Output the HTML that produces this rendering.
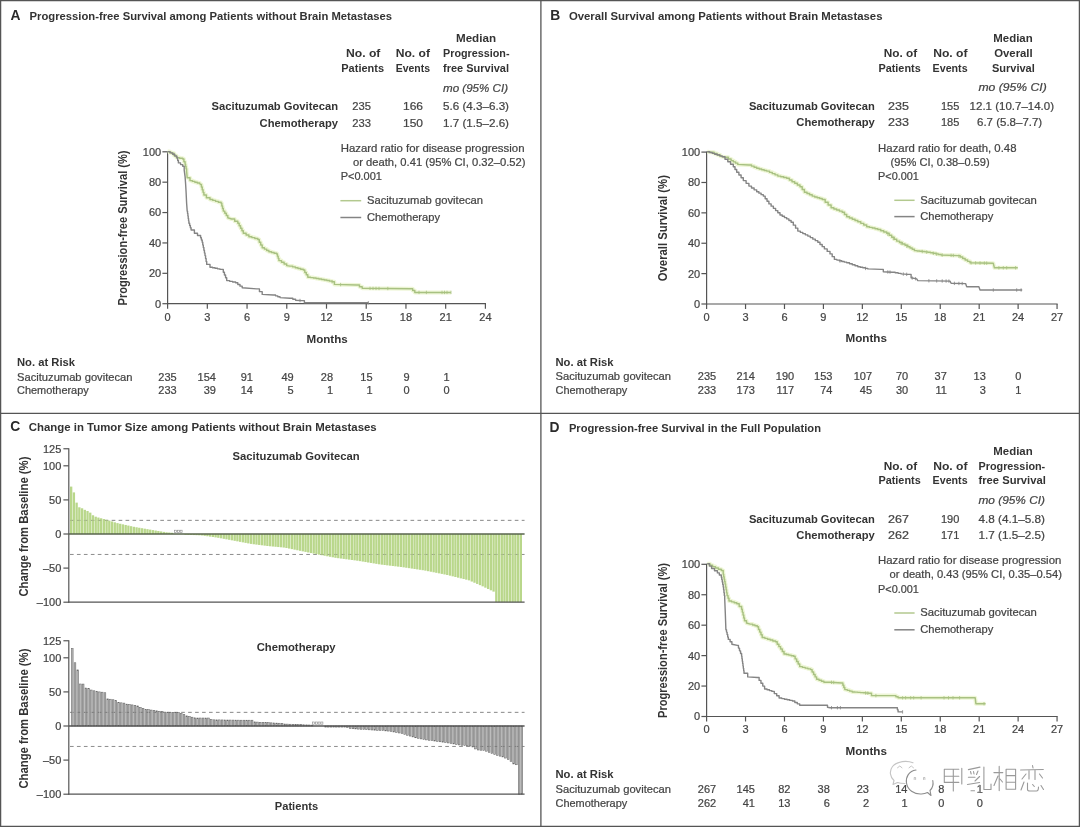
<!DOCTYPE html><html><head><meta charset="utf-8"><style>html,body{margin:0;padding:0;background:#fff;}svg{display:block;filter:blur(0.3px);}</style></head><body>
<svg width="1080" height="827" viewBox="0 0 1080 827" style="font-family:'Liberation Sans', sans-serif">
<rect x="0" y="0" width="1080" height="827" fill="#fff"/>
<rect x="0.6" y="0.6" width="1078.8" height="825.8" fill="none" stroke="#555" stroke-width="1.3"/>
<line x1="540.90" y1="0.00" x2="540.90" y2="827.00" stroke="#555" stroke-width="1.3"/>
<line x1="0.00" y1="413.30" x2="1080.00" y2="413.30" stroke="#555" stroke-width="1.3"/>
<text x="10.60" y="19.70" font-size="13.8" font-weight="bold" font-style="normal" fill="#2a2a2a">A</text>
<text x="29.50" y="19.60" font-size="11" font-weight="bold" font-style="normal" fill="#333" textLength="362.60" lengthAdjust="spacingAndGlyphs">Progression-free Survival among Patients without Brain Metastases</text>
<text x="550.30" y="19.60" font-size="13.8" font-weight="bold" font-style="normal" fill="#2a2a2a">B</text>
<text x="568.90" y="19.60" font-size="11" font-weight="bold" font-style="normal" fill="#333" textLength="313.60" lengthAdjust="spacingAndGlyphs">Overall Survival among Patients without Brain Metastases</text>
<text x="10.30" y="431.00" font-size="13.8" font-weight="bold" font-style="normal" fill="#2a2a2a">C</text>
<text x="28.70" y="431.30" font-size="11" font-weight="bold" font-style="normal" fill="#333" textLength="348.00" lengthAdjust="spacingAndGlyphs">Change in Tumor Size among Patients without Brain Metastases</text>
<text x="549.60" y="432.30" font-size="13.8" font-weight="bold" font-style="normal" fill="#2a2a2a">D</text>
<text x="568.90" y="432.30" font-size="11" font-weight="bold" font-style="normal" fill="#333" textLength="252.10" lengthAdjust="spacingAndGlyphs">Progression-free Survival in the Full Population</text>
<text x="456.00" y="41.80" font-size="11" font-weight="bold" font-style="normal" fill="#333" textLength="40.00" lengthAdjust="spacingAndGlyphs">Median</text>
<text x="346.00" y="57.10" font-size="11" font-weight="bold" font-style="normal" fill="#333" textLength="34.40" lengthAdjust="spacingAndGlyphs">No. of</text>
<text x="395.70" y="57.10" font-size="11" font-weight="bold" font-style="normal" fill="#333" textLength="34.30" lengthAdjust="spacingAndGlyphs">No. of</text>
<text x="443.00" y="57.10" font-size="11" font-weight="bold" font-style="normal" fill="#333" textLength="66.50" lengthAdjust="spacingAndGlyphs">Progression-</text>
<text x="341.30" y="71.50" font-size="11" font-weight="bold" font-style="normal" fill="#333" textLength="42.70" lengthAdjust="spacingAndGlyphs">Patients</text>
<text x="395.70" y="71.50" font-size="11" font-weight="bold" font-style="normal" fill="#333" textLength="34.30" lengthAdjust="spacingAndGlyphs">Events</text>
<text x="443.00" y="71.50" font-size="11" font-weight="bold" font-style="normal" fill="#333" textLength="66.00" lengthAdjust="spacingAndGlyphs">free Survival</text>
<text x="443.00" y="91.50" font-size="11" font-weight="normal" font-style="italic" fill="#444" stroke="#444" stroke-width="0.22" textLength="65.00" lengthAdjust="spacingAndGlyphs">mo (95% CI)</text>
<text x="211.60" y="110.30" font-size="11" font-weight="bold" font-style="normal" fill="#333" textLength="126.40" lengthAdjust="spacingAndGlyphs">Sacituzumab Govitecan</text>
<text x="352.30" y="110.30" font-size="11" font-weight="normal" font-style="normal" fill="#444" stroke="#444" stroke-width="0.22" textLength="18.70" lengthAdjust="spacingAndGlyphs">235</text>
<text x="403.00" y="110.30" font-size="11" font-weight="normal" font-style="normal" fill="#444" stroke="#444" stroke-width="0.22" textLength="20.00" lengthAdjust="spacingAndGlyphs">166</text>
<text x="443.00" y="110.30" font-size="11" font-weight="normal" font-style="normal" fill="#444" stroke="#444" stroke-width="0.22" textLength="66.00" lengthAdjust="spacingAndGlyphs">5.6 (4.3–6.3)</text>
<text x="259.60" y="126.50" font-size="11" font-weight="bold" font-style="normal" fill="#333" textLength="78.40" lengthAdjust="spacingAndGlyphs">Chemotherapy</text>
<text x="352.30" y="126.50" font-size="11" font-weight="normal" font-style="normal" fill="#444" stroke="#444" stroke-width="0.22" textLength="18.70" lengthAdjust="spacingAndGlyphs">233</text>
<text x="403.00" y="126.50" font-size="11" font-weight="normal" font-style="normal" fill="#444" stroke="#444" stroke-width="0.22" textLength="20.00" lengthAdjust="spacingAndGlyphs">150</text>
<text x="443.00" y="126.50" font-size="11" font-weight="normal" font-style="normal" fill="#444" stroke="#444" stroke-width="0.22" textLength="66.00" lengthAdjust="spacingAndGlyphs">1.7 (1.5–2.6)</text>
<text x="993.30" y="41.50" font-size="11" font-weight="bold" font-style="normal" fill="#333" textLength="39.40" lengthAdjust="spacingAndGlyphs">Median</text>
<text x="883.70" y="57.00" font-size="11" font-weight="bold" font-style="normal" fill="#333" textLength="33.50" lengthAdjust="spacingAndGlyphs">No. of</text>
<text x="933.20" y="57.00" font-size="11" font-weight="bold" font-style="normal" fill="#333" textLength="34.40" lengthAdjust="spacingAndGlyphs">No. of</text>
<text x="994.20" y="57.00" font-size="11" font-weight="bold" font-style="normal" fill="#333" textLength="38.50" lengthAdjust="spacingAndGlyphs">Overall</text>
<text x="878.40" y="71.50" font-size="11" font-weight="bold" font-style="normal" fill="#333" textLength="42.30" lengthAdjust="spacingAndGlyphs">Patients</text>
<text x="932.60" y="71.50" font-size="11" font-weight="bold" font-style="normal" fill="#333" textLength="35.00" lengthAdjust="spacingAndGlyphs">Events</text>
<text x="991.90" y="71.50" font-size="11" font-weight="bold" font-style="normal" fill="#333" textLength="42.90" lengthAdjust="spacingAndGlyphs">Survival</text>
<text x="978.50" y="91.00" font-size="11" font-weight="normal" font-style="italic" fill="#444" stroke="#444" stroke-width="0.22" textLength="68.20" lengthAdjust="spacingAndGlyphs">mo (95% CI)</text>
<text x="748.90" y="110.00" font-size="11" font-weight="bold" font-style="normal" fill="#333" textLength="125.90" lengthAdjust="spacingAndGlyphs">Sacituzumab Govitecan</text>
<text x="888.00" y="110.00" font-size="11" font-weight="normal" font-style="normal" fill="#444" stroke="#444" stroke-width="0.22" textLength="20.90" lengthAdjust="spacingAndGlyphs">235</text>
<text x="940.90" y="110.00" font-size="11" font-weight="normal" font-style="normal" fill="#444" stroke="#444" stroke-width="0.22" textLength="18.40" lengthAdjust="spacingAndGlyphs">155</text>
<text x="969.60" y="110.00" font-size="11" font-weight="normal" font-style="normal" fill="#444" stroke="#444" stroke-width="0.22" textLength="84.40" lengthAdjust="spacingAndGlyphs">12.1 (10.7–14.0)</text>
<text x="796.30" y="126.00" font-size="11" font-weight="bold" font-style="normal" fill="#333" textLength="78.50" lengthAdjust="spacingAndGlyphs">Chemotherapy</text>
<text x="888.00" y="126.00" font-size="11" font-weight="normal" font-style="normal" fill="#444" stroke="#444" stroke-width="0.22" textLength="20.90" lengthAdjust="spacingAndGlyphs">233</text>
<text x="940.90" y="126.00" font-size="11" font-weight="normal" font-style="normal" fill="#444" stroke="#444" stroke-width="0.22" textLength="18.40" lengthAdjust="spacingAndGlyphs">185</text>
<text x="977.00" y="126.00" font-size="11" font-weight="normal" font-style="normal" fill="#444" stroke="#444" stroke-width="0.22" textLength="65.20" lengthAdjust="spacingAndGlyphs">6.7 (5.8–7.7)</text>
<text x="993.30" y="454.50" font-size="11" font-weight="bold" font-style="normal" fill="#333" textLength="39.40" lengthAdjust="spacingAndGlyphs">Median</text>
<text x="883.70" y="470.00" font-size="11" font-weight="bold" font-style="normal" fill="#333" textLength="33.50" lengthAdjust="spacingAndGlyphs">No. of</text>
<text x="933.20" y="470.00" font-size="11" font-weight="bold" font-style="normal" fill="#333" textLength="34.40" lengthAdjust="spacingAndGlyphs">No. of</text>
<text x="978.50" y="470.00" font-size="11" font-weight="bold" font-style="normal" fill="#333" textLength="66.70" lengthAdjust="spacingAndGlyphs">Progression-</text>
<text x="878.40" y="484.20" font-size="11" font-weight="bold" font-style="normal" fill="#333" textLength="42.30" lengthAdjust="spacingAndGlyphs">Patients</text>
<text x="932.60" y="484.20" font-size="11" font-weight="bold" font-style="normal" fill="#333" textLength="35.00" lengthAdjust="spacingAndGlyphs">Events</text>
<text x="978.50" y="484.20" font-size="11" font-weight="bold" font-style="normal" fill="#333" textLength="67.30" lengthAdjust="spacingAndGlyphs">free Survival</text>
<text x="978.50" y="503.60" font-size="11" font-weight="normal" font-style="italic" fill="#444" stroke="#444" stroke-width="0.22" textLength="66.50" lengthAdjust="spacingAndGlyphs">mo (95% CI)</text>
<text x="748.90" y="523.20" font-size="11" font-weight="bold" font-style="normal" fill="#333" textLength="125.90" lengthAdjust="spacingAndGlyphs">Sacituzumab Govitecan</text>
<text x="888.00" y="523.20" font-size="11" font-weight="normal" font-style="normal" fill="#444" stroke="#444" stroke-width="0.22" textLength="20.90" lengthAdjust="spacingAndGlyphs">267</text>
<text x="940.90" y="523.20" font-size="11" font-weight="normal" font-style="normal" fill="#444" stroke="#444" stroke-width="0.22" textLength="18.40" lengthAdjust="spacingAndGlyphs">190</text>
<text x="978.50" y="523.20" font-size="11" font-weight="normal" font-style="normal" fill="#444" stroke="#444" stroke-width="0.22" textLength="66.50" lengthAdjust="spacingAndGlyphs">4.8 (4.1–5.8)</text>
<text x="796.30" y="539.30" font-size="11" font-weight="bold" font-style="normal" fill="#333" textLength="78.50" lengthAdjust="spacingAndGlyphs">Chemotherapy</text>
<text x="888.00" y="539.30" font-size="11" font-weight="normal" font-style="normal" fill="#444" stroke="#444" stroke-width="0.22" textLength="20.90" lengthAdjust="spacingAndGlyphs">262</text>
<text x="940.90" y="539.30" font-size="11" font-weight="normal" font-style="normal" fill="#444" stroke="#444" stroke-width="0.22" textLength="18.40" lengthAdjust="spacingAndGlyphs">171</text>
<text x="978.50" y="539.30" font-size="11" font-weight="normal" font-style="normal" fill="#444" stroke="#444" stroke-width="0.22" textLength="66.50" lengthAdjust="spacingAndGlyphs">1.7 (1.5–2.5)</text>
<text x="340.70" y="152.10" font-size="11" font-weight="normal" font-style="normal" fill="#444" stroke="#444" stroke-width="0.22" textLength="183.80" lengthAdjust="spacingAndGlyphs">Hazard ratio for disease progression</text>
<text x="353.00" y="166.10" font-size="11" font-weight="normal" font-style="normal" fill="#444" stroke="#444" stroke-width="0.22" textLength="172.50" lengthAdjust="spacingAndGlyphs">or death, 0.41 (95% CI, 0.32–0.52)</text>
<text x="340.70" y="180.10" font-size="11" font-weight="normal" font-style="normal" fill="#444" stroke="#444" stroke-width="0.22" textLength="41.30" lengthAdjust="spacingAndGlyphs">P&lt;0.001</text>
<line x1="340.40" y1="200.70" x2="361.20" y2="200.70" stroke="#b3c98f" stroke-width="1.5"/>
<text x="367.00" y="204.00" font-size="11" font-weight="normal" font-style="normal" fill="#444" stroke="#444" stroke-width="0.22" textLength="116.00" lengthAdjust="spacingAndGlyphs">Sacituzumab govitecan</text>
<line x1="340.40" y1="217.50" x2="361.20" y2="217.50" stroke="#848484" stroke-width="1.5"/>
<text x="367.00" y="220.60" font-size="11" font-weight="normal" font-style="normal" fill="#444" stroke="#444" stroke-width="0.22" textLength="73.00" lengthAdjust="spacingAndGlyphs">Chemotherapy</text>
<text x="878.10" y="152.00" font-size="11" font-weight="normal" font-style="normal" fill="#444" stroke="#444" stroke-width="0.22" textLength="138.40" lengthAdjust="spacingAndGlyphs">Hazard ratio for death, 0.48</text>
<text x="890.60" y="165.80" font-size="11" font-weight="normal" font-style="normal" fill="#444" stroke="#444" stroke-width="0.22" textLength="99.00" lengthAdjust="spacingAndGlyphs">(95% CI, 0.38–0.59)</text>
<text x="878.00" y="180.30" font-size="11" font-weight="normal" font-style="normal" fill="#444" stroke="#444" stroke-width="0.22" textLength="40.90" lengthAdjust="spacingAndGlyphs">P&lt;0.001</text>
<line x1="894.30" y1="200.30" x2="914.60" y2="200.30" stroke="#b3c98f" stroke-width="1.5"/>
<text x="920.20" y="203.90" font-size="11" font-weight="normal" font-style="normal" fill="#444" stroke="#444" stroke-width="0.22" textLength="116.70" lengthAdjust="spacingAndGlyphs">Sacituzumab govitecan</text>
<line x1="894.30" y1="216.60" x2="914.60" y2="216.60" stroke="#848484" stroke-width="1.5"/>
<text x="920.20" y="220.20" font-size="11" font-weight="normal" font-style="normal" fill="#444" stroke="#444" stroke-width="0.22" textLength="73.10" lengthAdjust="spacingAndGlyphs">Chemotherapy</text>
<text x="878.10" y="564.40" font-size="11" font-weight="normal" font-style="normal" fill="#444" stroke="#444" stroke-width="0.22" textLength="183.20" lengthAdjust="spacingAndGlyphs">Hazard ratio for disease progression</text>
<text x="889.60" y="578.20" font-size="11" font-weight="normal" font-style="normal" fill="#444" stroke="#444" stroke-width="0.22" textLength="172.40" lengthAdjust="spacingAndGlyphs">or death, 0.43 (95% CI, 0.35–0.54)</text>
<text x="878.00" y="593.00" font-size="11" font-weight="normal" font-style="normal" fill="#444" stroke="#444" stroke-width="0.22" textLength="40.90" lengthAdjust="spacingAndGlyphs">P&lt;0.001</text>
<line x1="894.30" y1="613.00" x2="914.60" y2="613.00" stroke="#b3c98f" stroke-width="1.5"/>
<text x="920.20" y="616.30" font-size="11" font-weight="normal" font-style="normal" fill="#444" stroke="#444" stroke-width="0.22" textLength="116.70" lengthAdjust="spacingAndGlyphs">Sacituzumab govitecan</text>
<line x1="894.30" y1="629.80" x2="914.60" y2="629.80" stroke="#848484" stroke-width="1.5"/>
<text x="920.20" y="633.00" font-size="11" font-weight="normal" font-style="normal" fill="#444" stroke="#444" stroke-width="0.22" textLength="73.10" lengthAdjust="spacingAndGlyphs">Chemotherapy</text>
<line x1="167.60" y1="151.20" x2="167.60" y2="304.30" stroke="#555" stroke-width="1.2"/>
<line x1="162.40" y1="303.70" x2="167.60" y2="303.70" stroke="#555" stroke-width="1.2"/>
<text x="161.20" y="307.60" font-size="11" font-weight="normal" fill="#444" stroke="#444" stroke-width="0.22" text-anchor="end">0</text>
<line x1="162.40" y1="273.32" x2="167.60" y2="273.32" stroke="#555" stroke-width="1.2"/>
<text x="161.20" y="277.22" font-size="11" font-weight="normal" fill="#444" stroke="#444" stroke-width="0.22" text-anchor="end">20</text>
<line x1="162.40" y1="242.94" x2="167.60" y2="242.94" stroke="#555" stroke-width="1.2"/>
<text x="161.20" y="246.84" font-size="11" font-weight="normal" fill="#444" stroke="#444" stroke-width="0.22" text-anchor="end">40</text>
<line x1="162.40" y1="212.56" x2="167.60" y2="212.56" stroke="#555" stroke-width="1.2"/>
<text x="161.20" y="216.46" font-size="11" font-weight="normal" fill="#444" stroke="#444" stroke-width="0.22" text-anchor="end">60</text>
<line x1="162.40" y1="182.18" x2="167.60" y2="182.18" stroke="#555" stroke-width="1.2"/>
<text x="161.20" y="186.08" font-size="11" font-weight="normal" fill="#444" stroke="#444" stroke-width="0.22" text-anchor="end">80</text>
<line x1="162.40" y1="151.80" x2="167.60" y2="151.80" stroke="#555" stroke-width="1.2"/>
<text x="161.20" y="155.70" font-size="11" font-weight="normal" fill="#444" stroke="#444" stroke-width="0.22" text-anchor="end">100</text>
<line x1="167.00" y1="303.70" x2="486.00" y2="303.70" stroke="#555" stroke-width="1.2"/>
<line x1="167.60" y1="303.70" x2="167.60" y2="308.70" stroke="#555" stroke-width="1.2"/>
<text x="167.60" y="320.70" font-size="11" font-weight="normal" fill="#444" stroke="#444" stroke-width="0.22" text-anchor="middle">0</text>
<line x1="207.32" y1="303.70" x2="207.32" y2="308.70" stroke="#555" stroke-width="1.2"/>
<text x="207.32" y="320.70" font-size="11" font-weight="normal" fill="#444" stroke="#444" stroke-width="0.22" text-anchor="middle">3</text>
<line x1="247.05" y1="303.70" x2="247.05" y2="308.70" stroke="#555" stroke-width="1.2"/>
<text x="247.05" y="320.70" font-size="11" font-weight="normal" fill="#444" stroke="#444" stroke-width="0.22" text-anchor="middle">6</text>
<line x1="286.77" y1="303.70" x2="286.77" y2="308.70" stroke="#555" stroke-width="1.2"/>
<text x="286.77" y="320.70" font-size="11" font-weight="normal" fill="#444" stroke="#444" stroke-width="0.22" text-anchor="middle">9</text>
<line x1="326.50" y1="303.70" x2="326.50" y2="308.70" stroke="#555" stroke-width="1.2"/>
<text x="326.50" y="320.70" font-size="11" font-weight="normal" fill="#444" stroke="#444" stroke-width="0.22" text-anchor="middle">12</text>
<line x1="366.23" y1="303.70" x2="366.23" y2="308.70" stroke="#555" stroke-width="1.2"/>
<text x="366.23" y="320.70" font-size="11" font-weight="normal" fill="#444" stroke="#444" stroke-width="0.22" text-anchor="middle">15</text>
<line x1="405.95" y1="303.70" x2="405.95" y2="308.70" stroke="#555" stroke-width="1.2"/>
<text x="405.95" y="320.70" font-size="11" font-weight="normal" fill="#444" stroke="#444" stroke-width="0.22" text-anchor="middle">18</text>
<line x1="445.67" y1="303.70" x2="445.67" y2="308.70" stroke="#555" stroke-width="1.2"/>
<text x="445.67" y="320.70" font-size="11" font-weight="normal" fill="#444" stroke="#444" stroke-width="0.22" text-anchor="middle">21</text>
<line x1="485.40" y1="303.70" x2="485.40" y2="308.70" stroke="#555" stroke-width="1.2"/>
<text x="485.40" y="320.70" font-size="11" font-weight="normal" fill="#444" stroke="#444" stroke-width="0.22" text-anchor="middle">24</text>
<line x1="706.60" y1="151.50" x2="706.60" y2="304.60" stroke="#555" stroke-width="1.2"/>
<line x1="701.40" y1="304.00" x2="706.60" y2="304.00" stroke="#555" stroke-width="1.2"/>
<text x="700.20" y="307.90" font-size="11" font-weight="normal" fill="#444" stroke="#444" stroke-width="0.22" text-anchor="end">0</text>
<line x1="701.40" y1="273.62" x2="706.60" y2="273.62" stroke="#555" stroke-width="1.2"/>
<text x="700.20" y="277.52" font-size="11" font-weight="normal" fill="#444" stroke="#444" stroke-width="0.22" text-anchor="end">20</text>
<line x1="701.40" y1="243.24" x2="706.60" y2="243.24" stroke="#555" stroke-width="1.2"/>
<text x="700.20" y="247.14" font-size="11" font-weight="normal" fill="#444" stroke="#444" stroke-width="0.22" text-anchor="end">40</text>
<line x1="701.40" y1="212.86" x2="706.60" y2="212.86" stroke="#555" stroke-width="1.2"/>
<text x="700.20" y="216.76" font-size="11" font-weight="normal" fill="#444" stroke="#444" stroke-width="0.22" text-anchor="end">60</text>
<line x1="701.40" y1="182.48" x2="706.60" y2="182.48" stroke="#555" stroke-width="1.2"/>
<text x="700.20" y="186.38" font-size="11" font-weight="normal" fill="#444" stroke="#444" stroke-width="0.22" text-anchor="end">80</text>
<line x1="701.40" y1="152.10" x2="706.60" y2="152.10" stroke="#555" stroke-width="1.2"/>
<text x="700.20" y="156.00" font-size="11" font-weight="normal" fill="#444" stroke="#444" stroke-width="0.22" text-anchor="end">100</text>
<line x1="706.00" y1="304.00" x2="1057.66" y2="304.00" stroke="#555" stroke-width="1.2"/>
<line x1="706.60" y1="304.00" x2="706.60" y2="309.00" stroke="#555" stroke-width="1.2"/>
<text x="706.60" y="321.00" font-size="11" font-weight="normal" fill="#444" stroke="#444" stroke-width="0.22" text-anchor="middle">0</text>
<line x1="745.54" y1="304.00" x2="745.54" y2="309.00" stroke="#555" stroke-width="1.2"/>
<text x="745.54" y="321.00" font-size="11" font-weight="normal" fill="#444" stroke="#444" stroke-width="0.22" text-anchor="middle">3</text>
<line x1="784.48" y1="304.00" x2="784.48" y2="309.00" stroke="#555" stroke-width="1.2"/>
<text x="784.48" y="321.00" font-size="11" font-weight="normal" fill="#444" stroke="#444" stroke-width="0.22" text-anchor="middle">6</text>
<line x1="823.42" y1="304.00" x2="823.42" y2="309.00" stroke="#555" stroke-width="1.2"/>
<text x="823.42" y="321.00" font-size="11" font-weight="normal" fill="#444" stroke="#444" stroke-width="0.22" text-anchor="middle">9</text>
<line x1="862.36" y1="304.00" x2="862.36" y2="309.00" stroke="#555" stroke-width="1.2"/>
<text x="862.36" y="321.00" font-size="11" font-weight="normal" fill="#444" stroke="#444" stroke-width="0.22" text-anchor="middle">12</text>
<line x1="901.30" y1="304.00" x2="901.30" y2="309.00" stroke="#555" stroke-width="1.2"/>
<text x="901.30" y="321.00" font-size="11" font-weight="normal" fill="#444" stroke="#444" stroke-width="0.22" text-anchor="middle">15</text>
<line x1="940.24" y1="304.00" x2="940.24" y2="309.00" stroke="#555" stroke-width="1.2"/>
<text x="940.24" y="321.00" font-size="11" font-weight="normal" fill="#444" stroke="#444" stroke-width="0.22" text-anchor="middle">18</text>
<line x1="979.18" y1="304.00" x2="979.18" y2="309.00" stroke="#555" stroke-width="1.2"/>
<text x="979.18" y="321.00" font-size="11" font-weight="normal" fill="#444" stroke="#444" stroke-width="0.22" text-anchor="middle">21</text>
<line x1="1018.12" y1="304.00" x2="1018.12" y2="309.00" stroke="#555" stroke-width="1.2"/>
<text x="1018.12" y="321.00" font-size="11" font-weight="normal" fill="#444" stroke="#444" stroke-width="0.22" text-anchor="middle">24</text>
<line x1="1057.06" y1="304.00" x2="1057.06" y2="309.00" stroke="#555" stroke-width="1.2"/>
<text x="1057.06" y="321.00" font-size="11" font-weight="normal" fill="#444" stroke="#444" stroke-width="0.22" text-anchor="middle">27</text>
<line x1="706.60" y1="563.70" x2="706.60" y2="717.10" stroke="#555" stroke-width="1.2"/>
<line x1="701.40" y1="716.50" x2="706.60" y2="716.50" stroke="#555" stroke-width="1.2"/>
<text x="700.20" y="720.40" font-size="11" font-weight="normal" fill="#444" stroke="#444" stroke-width="0.22" text-anchor="end">0</text>
<line x1="701.40" y1="686.06" x2="706.60" y2="686.06" stroke="#555" stroke-width="1.2"/>
<text x="700.20" y="689.96" font-size="11" font-weight="normal" fill="#444" stroke="#444" stroke-width="0.22" text-anchor="end">20</text>
<line x1="701.40" y1="655.62" x2="706.60" y2="655.62" stroke="#555" stroke-width="1.2"/>
<text x="700.20" y="659.52" font-size="11" font-weight="normal" fill="#444" stroke="#444" stroke-width="0.22" text-anchor="end">40</text>
<line x1="701.40" y1="625.18" x2="706.60" y2="625.18" stroke="#555" stroke-width="1.2"/>
<text x="700.20" y="629.08" font-size="11" font-weight="normal" fill="#444" stroke="#444" stroke-width="0.22" text-anchor="end">60</text>
<line x1="701.40" y1="594.74" x2="706.60" y2="594.74" stroke="#555" stroke-width="1.2"/>
<text x="700.20" y="598.64" font-size="11" font-weight="normal" fill="#444" stroke="#444" stroke-width="0.22" text-anchor="end">80</text>
<line x1="701.40" y1="564.30" x2="706.60" y2="564.30" stroke="#555" stroke-width="1.2"/>
<text x="700.20" y="568.20" font-size="11" font-weight="normal" fill="#444" stroke="#444" stroke-width="0.22" text-anchor="end">100</text>
<line x1="706.00" y1="716.50" x2="1057.66" y2="716.50" stroke="#555" stroke-width="1.2"/>
<line x1="706.60" y1="716.50" x2="706.60" y2="721.50" stroke="#555" stroke-width="1.2"/>
<text x="706.60" y="733.00" font-size="11" font-weight="normal" fill="#444" stroke="#444" stroke-width="0.22" text-anchor="middle">0</text>
<line x1="745.54" y1="716.50" x2="745.54" y2="721.50" stroke="#555" stroke-width="1.2"/>
<text x="745.54" y="733.00" font-size="11" font-weight="normal" fill="#444" stroke="#444" stroke-width="0.22" text-anchor="middle">3</text>
<line x1="784.48" y1="716.50" x2="784.48" y2="721.50" stroke="#555" stroke-width="1.2"/>
<text x="784.48" y="733.00" font-size="11" font-weight="normal" fill="#444" stroke="#444" stroke-width="0.22" text-anchor="middle">6</text>
<line x1="823.42" y1="716.50" x2="823.42" y2="721.50" stroke="#555" stroke-width="1.2"/>
<text x="823.42" y="733.00" font-size="11" font-weight="normal" fill="#444" stroke="#444" stroke-width="0.22" text-anchor="middle">9</text>
<line x1="862.36" y1="716.50" x2="862.36" y2="721.50" stroke="#555" stroke-width="1.2"/>
<text x="862.36" y="733.00" font-size="11" font-weight="normal" fill="#444" stroke="#444" stroke-width="0.22" text-anchor="middle">12</text>
<line x1="901.30" y1="716.50" x2="901.30" y2="721.50" stroke="#555" stroke-width="1.2"/>
<text x="901.30" y="733.00" font-size="11" font-weight="normal" fill="#444" stroke="#444" stroke-width="0.22" text-anchor="middle">15</text>
<line x1="940.24" y1="716.50" x2="940.24" y2="721.50" stroke="#555" stroke-width="1.2"/>
<text x="940.24" y="733.00" font-size="11" font-weight="normal" fill="#444" stroke="#444" stroke-width="0.22" text-anchor="middle">18</text>
<line x1="979.18" y1="716.50" x2="979.18" y2="721.50" stroke="#555" stroke-width="1.2"/>
<text x="979.18" y="733.00" font-size="11" font-weight="normal" fill="#444" stroke="#444" stroke-width="0.22" text-anchor="middle">21</text>
<line x1="1018.12" y1="716.50" x2="1018.12" y2="721.50" stroke="#555" stroke-width="1.2"/>
<text x="1018.12" y="733.00" font-size="11" font-weight="normal" fill="#444" stroke="#444" stroke-width="0.22" text-anchor="middle">24</text>
<line x1="1057.06" y1="716.50" x2="1057.06" y2="721.50" stroke="#555" stroke-width="1.2"/>
<text x="1057.06" y="733.00" font-size="11" font-weight="normal" fill="#444" stroke="#444" stroke-width="0.22" text-anchor="middle">27</text>
<text transform="translate(127.40,305.40) rotate(-90)" x="0" y="0" font-size="12" font-weight="bold" fill="#333" textLength="154.90" lengthAdjust="spacingAndGlyphs">Progression-free Survival (%)</text>
<text transform="translate(667.00,281.20) rotate(-90)" x="0" y="0" font-size="12" font-weight="bold" fill="#333" textLength="106.10" lengthAdjust="spacingAndGlyphs">Overall Survival (%)</text>
<text transform="translate(667.00,717.90) rotate(-90)" x="0" y="0" font-size="12" font-weight="bold" fill="#333" textLength="154.90" lengthAdjust="spacingAndGlyphs">Progression-free Survival (%)</text>
<text x="306.50" y="342.50" font-size="11.5" font-weight="bold" font-style="normal" fill="#333" textLength="41.20" lengthAdjust="spacingAndGlyphs">Months</text>
<text x="845.50" y="342.00" font-size="11.5" font-weight="bold" font-style="normal" fill="#333" textLength="41.50" lengthAdjust="spacingAndGlyphs">Months</text>
<text x="845.50" y="754.50" font-size="11.5" font-weight="bold" font-style="normal" fill="#333" textLength="41.50" lengthAdjust="spacingAndGlyphs">Months</text>
<text x="17.00" y="365.50" font-size="11.5" font-weight="bold" font-style="normal" fill="#333" textLength="58.00" lengthAdjust="spacingAndGlyphs">No. at Risk</text>
<text x="17.00" y="380.60" font-size="11" font-weight="normal" font-style="normal" fill="#444" stroke="#444" stroke-width="0.22" textLength="115.50" lengthAdjust="spacingAndGlyphs">Sacituzumab govitecan</text>
<text x="17.00" y="394.20" font-size="11" font-weight="normal" font-style="normal" fill="#444" stroke="#444" stroke-width="0.22" textLength="71.75" lengthAdjust="spacingAndGlyphs">Chemotherapy</text>
<text x="176.65" y="380.60" font-size="11" font-weight="normal" fill="#444" stroke="#444" stroke-width="0.22" text-anchor="end">235</text>
<text x="176.65" y="394.20" font-size="11" font-weight="normal" fill="#444" stroke="#444" stroke-width="0.22" text-anchor="end">233</text>
<text x="215.90" y="380.60" font-size="11" font-weight="normal" fill="#444" stroke="#444" stroke-width="0.22" text-anchor="end">154</text>
<text x="215.90" y="394.20" font-size="11" font-weight="normal" fill="#444" stroke="#444" stroke-width="0.22" text-anchor="end">39</text>
<text x="252.90" y="380.60" font-size="11" font-weight="normal" fill="#444" stroke="#444" stroke-width="0.22" text-anchor="end">91</text>
<text x="252.90" y="394.20" font-size="11" font-weight="normal" fill="#444" stroke="#444" stroke-width="0.22" text-anchor="end">14</text>
<text x="293.70" y="380.60" font-size="11" font-weight="normal" fill="#444" stroke="#444" stroke-width="0.22" text-anchor="end">49</text>
<text x="293.70" y="394.20" font-size="11" font-weight="normal" fill="#444" stroke="#444" stroke-width="0.22" text-anchor="end">5</text>
<text x="333.10" y="380.60" font-size="11" font-weight="normal" fill="#444" stroke="#444" stroke-width="0.22" text-anchor="end">28</text>
<text x="333.10" y="394.20" font-size="11" font-weight="normal" fill="#444" stroke="#444" stroke-width="0.22" text-anchor="end">1</text>
<text x="372.60" y="380.60" font-size="11" font-weight="normal" fill="#444" stroke="#444" stroke-width="0.22" text-anchor="end">15</text>
<text x="372.60" y="394.20" font-size="11" font-weight="normal" fill="#444" stroke="#444" stroke-width="0.22" text-anchor="end">1</text>
<text x="409.70" y="380.60" font-size="11" font-weight="normal" fill="#444" stroke="#444" stroke-width="0.22" text-anchor="end">9</text>
<text x="409.70" y="394.20" font-size="11" font-weight="normal" fill="#444" stroke="#444" stroke-width="0.22" text-anchor="end">0</text>
<text x="449.70" y="380.60" font-size="11" font-weight="normal" fill="#444" stroke="#444" stroke-width="0.22" text-anchor="end">1</text>
<text x="449.70" y="394.20" font-size="11" font-weight="normal" fill="#444" stroke="#444" stroke-width="0.22" text-anchor="end">0</text>
<text x="555.50" y="365.50" font-size="11.5" font-weight="bold" font-style="normal" fill="#333" textLength="58.00" lengthAdjust="spacingAndGlyphs">No. at Risk</text>
<text x="555.50" y="380.20" font-size="11" font-weight="normal" font-style="normal" fill="#444" stroke="#444" stroke-width="0.22" textLength="115.50" lengthAdjust="spacingAndGlyphs">Sacituzumab govitecan</text>
<text x="555.50" y="393.60" font-size="11" font-weight="normal" font-style="normal" fill="#444" stroke="#444" stroke-width="0.22" textLength="71.75" lengthAdjust="spacingAndGlyphs">Chemotherapy</text>
<text x="716.15" y="380.20" font-size="11" font-weight="normal" fill="#444" stroke="#444" stroke-width="0.22" text-anchor="end">235</text>
<text x="716.15" y="393.60" font-size="11" font-weight="normal" fill="#444" stroke="#444" stroke-width="0.22" text-anchor="end">233</text>
<text x="754.90" y="380.20" font-size="11" font-weight="normal" fill="#444" stroke="#444" stroke-width="0.22" text-anchor="end">214</text>
<text x="754.90" y="393.60" font-size="11" font-weight="normal" fill="#444" stroke="#444" stroke-width="0.22" text-anchor="end">173</text>
<text x="794.15" y="380.20" font-size="11" font-weight="normal" fill="#444" stroke="#444" stroke-width="0.22" text-anchor="end">190</text>
<text x="794.15" y="393.60" font-size="11" font-weight="normal" fill="#444" stroke="#444" stroke-width="0.22" text-anchor="end">117</text>
<text x="832.40" y="380.20" font-size="11" font-weight="normal" fill="#444" stroke="#444" stroke-width="0.22" text-anchor="end">153</text>
<text x="832.40" y="393.60" font-size="11" font-weight="normal" fill="#444" stroke="#444" stroke-width="0.22" text-anchor="end">74</text>
<text x="872.10" y="380.20" font-size="11" font-weight="normal" fill="#444" stroke="#444" stroke-width="0.22" text-anchor="end">107</text>
<text x="872.10" y="393.60" font-size="11" font-weight="normal" fill="#444" stroke="#444" stroke-width="0.22" text-anchor="end">45</text>
<text x="908.20" y="380.20" font-size="11" font-weight="normal" fill="#444" stroke="#444" stroke-width="0.22" text-anchor="end">70</text>
<text x="908.20" y="393.60" font-size="11" font-weight="normal" fill="#444" stroke="#444" stroke-width="0.22" text-anchor="end">30</text>
<text x="946.80" y="380.20" font-size="11" font-weight="normal" fill="#444" stroke="#444" stroke-width="0.22" text-anchor="end">37</text>
<text x="946.80" y="393.60" font-size="11" font-weight="normal" fill="#444" stroke="#444" stroke-width="0.22" text-anchor="end">11</text>
<text x="985.80" y="380.20" font-size="11" font-weight="normal" fill="#444" stroke="#444" stroke-width="0.22" text-anchor="end">13</text>
<text x="985.80" y="393.60" font-size="11" font-weight="normal" fill="#444" stroke="#444" stroke-width="0.22" text-anchor="end">3</text>
<text x="1021.40" y="380.20" font-size="11" font-weight="normal" fill="#444" stroke="#444" stroke-width="0.22" text-anchor="end">0</text>
<text x="1021.40" y="393.60" font-size="11" font-weight="normal" fill="#444" stroke="#444" stroke-width="0.22" text-anchor="end">1</text>
<text x="555.50" y="778.00" font-size="11.5" font-weight="bold" font-style="normal" fill="#333" textLength="58.00" lengthAdjust="spacingAndGlyphs">No. at Risk</text>
<text x="555.50" y="793.00" font-size="11" font-weight="normal" font-style="normal" fill="#444" stroke="#444" stroke-width="0.22" textLength="115.50" lengthAdjust="spacingAndGlyphs">Sacituzumab govitecan</text>
<text x="555.50" y="806.50" font-size="11" font-weight="normal" font-style="normal" fill="#444" stroke="#444" stroke-width="0.22" textLength="71.75" lengthAdjust="spacingAndGlyphs">Chemotherapy</text>
<text x="716.15" y="793.00" font-size="11" font-weight="normal" fill="#444" stroke="#444" stroke-width="0.22" text-anchor="end">267</text>
<text x="716.15" y="806.50" font-size="11" font-weight="normal" fill="#444" stroke="#444" stroke-width="0.22" text-anchor="end">262</text>
<text x="754.90" y="793.00" font-size="11" font-weight="normal" fill="#444" stroke="#444" stroke-width="0.22" text-anchor="end">145</text>
<text x="754.90" y="806.50" font-size="11" font-weight="normal" fill="#444" stroke="#444" stroke-width="0.22" text-anchor="end">41</text>
<text x="790.40" y="793.00" font-size="11" font-weight="normal" fill="#444" stroke="#444" stroke-width="0.22" text-anchor="end">82</text>
<text x="790.40" y="806.50" font-size="11" font-weight="normal" fill="#444" stroke="#444" stroke-width="0.22" text-anchor="end">13</text>
<text x="829.80" y="793.00" font-size="11" font-weight="normal" fill="#444" stroke="#444" stroke-width="0.22" text-anchor="end">38</text>
<text x="829.80" y="806.50" font-size="11" font-weight="normal" fill="#444" stroke="#444" stroke-width="0.22" text-anchor="end">6</text>
<text x="869.00" y="793.00" font-size="11" font-weight="normal" fill="#444" stroke="#444" stroke-width="0.22" text-anchor="end">23</text>
<text x="869.00" y="806.50" font-size="11" font-weight="normal" fill="#444" stroke="#444" stroke-width="0.22" text-anchor="end">2</text>
<text x="907.50" y="793.00" font-size="11" font-weight="normal" fill="#444" stroke="#444" stroke-width="0.22" text-anchor="end">14</text>
<text x="907.50" y="806.50" font-size="11" font-weight="normal" fill="#444" stroke="#444" stroke-width="0.22" text-anchor="end">1</text>
<text x="944.40" y="793.00" font-size="11" font-weight="normal" fill="#444" stroke="#444" stroke-width="0.22" text-anchor="end">8</text>
<text x="944.40" y="806.50" font-size="11" font-weight="normal" fill="#444" stroke="#444" stroke-width="0.22" text-anchor="end">0</text>
<text x="982.90" y="793.00" font-size="11" font-weight="normal" fill="#444" stroke="#444" stroke-width="0.22" text-anchor="end">1</text>
<text x="982.90" y="806.50" font-size="11" font-weight="normal" fill="#444" stroke="#444" stroke-width="0.22" text-anchor="end">0</text>
<polyline points="167.70,151.60 169.65,151.60 169.65,152.40 171.60,152.40 171.60,153.20 174.00,153.20 174.00,155.40 176.40,155.40 176.40,157.60 179.55,157.60 179.55,158.30 182.70,158.30 182.70,159.00 183.90,159.00 183.90,161.65 185.10,161.65 185.10,164.30 185.60,164.30 185.60,166.57 186.10,166.57 186.10,168.83 186.60,168.83 186.60,171.10 187.20,177.80 190.00,177.80 190.00,180.60 192.43,180.60 192.43,181.38 194.85,181.38 194.85,182.15 197.27,182.15 197.27,182.92 199.70,182.92 199.70,183.70 200.60,184.40 201.43,184.40 201.43,187.05 202.25,187.05 202.25,189.70 203.07,189.70 203.07,192.35 203.90,192.35 203.90,195.00 206.40,195.00 206.40,197.70 210.00,197.70 210.00,199.40 212.78,199.40 212.78,200.38 215.55,200.38 215.55,201.35 218.32,201.35 218.32,202.33 221.10,202.33 221.10,203.30 221.83,203.30 221.83,205.90 222.57,205.90 222.57,208.50 223.30,208.50 223.30,211.10 224.80,211.10 224.80,213.33 226.30,213.33 226.30,215.57 227.80,215.57 227.80,217.80 231.60,219.00 234.70,219.00 234.70,221.15 237.80,221.15 237.80,223.30 239.18,223.30 239.18,225.80 240.55,225.80 240.55,228.30 241.93,228.30 241.93,230.80 243.30,230.80 243.30,233.30 246.10,233.30 246.10,235.00 248.90,235.00 248.90,236.70 251.87,236.70 251.87,237.60 254.83,237.60 254.83,238.50 257.80,238.50 257.80,239.40 259.27,239.40 259.27,242.20 260.73,242.20 260.73,245.00 262.20,245.00 262.20,247.80 264.43,247.80 264.43,249.10 266.67,249.10 266.67,250.40 268.90,250.40 268.90,251.70 271.50,251.70 271.50,252.43 274.10,252.43 274.10,253.17 276.70,253.17 276.70,253.90 277.43,253.90 277.43,256.13 278.17,256.13 278.17,258.37 278.90,258.37 278.90,260.60 281.50,260.60 281.50,262.27 284.10,262.27 284.10,263.93 286.70,263.93 286.70,265.60 290.00,266.10 292.66,266.10 292.66,266.88 295.32,266.88 295.32,267.66 297.98,267.66 297.98,268.44 300.64,268.44 300.64,269.22 303.30,269.22 303.30,270.00 304.80,270.00 304.80,272.40 306.30,272.40 306.30,274.80 307.80,274.80 307.80,277.20 310.57,277.20 310.57,277.62 313.35,277.62 313.35,278.05 316.12,278.05 316.12,278.47 318.90,278.47 318.90,278.90 321.56,278.90 321.56,279.46 324.22,279.46 324.22,280.02 326.88,280.02 326.88,280.58 329.54,280.58 329.54,281.14 332.20,281.14 332.20,281.70 334.40,281.70 334.40,284.40 356.70,285.00 359.45,285.00 359.45,286.65 362.20,286.65 362.20,288.30 410.60,288.70 412.70,288.70 412.70,290.55 414.80,290.55 414.80,292.40 450.90,292.40" fill="none" stroke="#eef6d6" stroke-width="4.0" stroke-linejoin="round" stroke-linecap="butt"/>
<polyline points="707.20,151.70 711.10,152.20 714.07,152.20 714.07,153.50 717.03,153.50 717.03,154.80 720.00,154.80 720.00,156.10 725.60,157.20 728.35,157.20 728.35,158.90 731.10,158.90 731.10,160.60 733.33,160.60 733.33,161.87 735.57,161.87 735.57,163.13 737.80,163.13 737.80,164.40 748.90,165.00 751.50,165.00 751.50,166.10 754.10,166.10 754.10,167.20 756.70,167.20 756.70,168.30 759.20,168.30 759.20,169.00 761.70,169.00 761.70,169.70 764.20,169.70 764.20,170.40 766.70,170.40 766.70,171.10 769.48,171.10 769.48,172.35 772.25,172.35 772.25,173.60 775.02,173.60 775.02,174.85 777.80,174.85 777.80,176.10 780.77,176.10 780.77,176.83 783.73,176.83 783.73,177.57 786.70,177.57 786.70,178.30 789.36,178.30 789.36,179.98 792.02,179.98 792.02,181.66 794.68,181.66 794.68,183.34 797.34,183.34 797.34,185.02 800.00,185.02 800.00,186.70 802.20,186.70 802.20,189.45 804.40,189.45 804.40,192.20 807.00,192.20 807.00,193.50 809.60,193.50 809.60,194.80 812.20,194.80 812.20,196.10 814.70,196.10 814.70,196.93 817.20,196.93 817.20,197.75 819.70,197.75 819.70,198.57 822.20,198.57 822.20,199.40 825.17,199.40 825.17,202.20 828.13,202.20 828.13,205.00 831.10,205.00 831.10,207.80 833.88,207.80 833.88,208.90 836.65,208.90 836.65,210.00 839.43,210.00 839.43,211.10 842.20,211.10 842.20,212.20 844.45,212.20 844.45,214.45 846.70,214.45 846.70,216.70 849.48,216.70 849.48,217.95 852.25,217.95 852.25,219.20 855.02,219.20 855.02,220.45 857.80,220.45 857.80,221.70 860.77,221.70 860.77,223.37 863.73,223.37 863.73,225.03 866.70,225.03 866.70,226.70 869.48,226.70 869.48,227.38 872.25,227.38 872.25,228.05 875.02,228.05 875.02,228.72 877.80,228.72 877.80,229.40 880.77,229.40 880.77,230.70 883.73,230.70 883.73,232.00 886.70,232.00 886.70,233.30 889.20,233.30 889.20,235.25 891.70,235.25 891.70,237.20 894.20,237.20 894.20,239.15 896.70,239.15 896.70,241.10 899.48,241.10 899.48,242.50 902.25,242.50 902.25,243.90 905.02,243.90 905.02,245.30 907.80,245.30 907.80,246.70 910.00,246.70 910.00,248.00 912.20,248.00 912.20,249.30 914.40,249.30 914.40,250.60 917.08,250.60 917.08,250.92 919.76,250.92 919.76,251.24 922.44,251.24 922.44,251.56 925.12,251.56 925.12,251.88 927.80,251.88 927.80,252.20 930.46,252.20 930.46,252.76 933.12,252.76 933.12,253.32 935.78,253.32 935.78,253.88 938.44,253.88 938.44,254.44 941.10,254.44 941.10,255.00 957.80,255.60 960.24,255.60 960.24,257.04 962.68,257.04 962.68,258.48 965.12,258.48 965.12,259.92 967.56,259.92 967.56,261.36 970.00,261.36 970.00,262.80 993.30,263.30 994.40,267.80 1017.80,267.80" fill="none" stroke="#eef6d6" stroke-width="4.0" stroke-linejoin="round" stroke-linecap="butt"/>
<polyline points="707.30,563.70 709.95,563.70 709.95,565.15 712.60,565.15 712.60,566.60 715.50,566.60 715.50,567.90 718.40,567.90 718.40,569.20 721.30,569.20 721.30,570.50 723.20,570.50 723.20,574.30 723.68,574.30 723.68,576.72 724.15,576.72 724.15,579.15 724.62,579.15 724.62,581.58 725.10,581.58 725.10,584.00 725.60,584.00 725.60,586.90 726.10,586.90 726.10,589.80 726.60,589.80 726.60,592.70 727.10,592.70 727.10,595.60 728.05,595.60 728.05,598.25 729.00,598.25 729.00,600.90 731.60,600.90 731.60,601.87 734.20,601.87 734.20,602.83 736.80,602.83 736.80,603.80 739.20,603.80 739.20,606.50 741.60,606.50 741.60,609.20 742.33,609.20 742.33,612.10 743.05,612.10 743.05,615.00 743.77,615.00 743.77,617.90 744.50,617.90 744.50,620.80 746.50,620.80 746.50,623.00 750.30,624.10 752.63,624.10 752.63,624.97 754.97,624.97 754.97,625.83 757.30,625.83 757.30,626.70 758.52,626.70 758.52,629.40 759.75,629.40 759.75,632.10 760.98,632.10 760.98,634.80 762.20,634.80 762.20,637.50 764.86,637.50 764.86,638.36 767.52,638.36 767.52,639.22 770.18,639.22 770.18,640.08 772.84,640.08 772.84,640.94 775.50,640.94 775.50,641.80 777.20,641.80 777.20,644.22 778.90,644.22 778.90,646.64 780.60,646.64 780.60,649.06 782.30,649.06 782.30,651.48 784.00,651.48 784.00,653.90 786.40,653.90 786.40,654.50 788.80,654.50 788.80,655.10 791.20,655.10 791.20,655.70 793.60,655.70 793.60,656.30 795.12,656.30 795.12,658.88 796.65,658.88 796.65,661.45 798.18,661.45 798.18,664.02 799.70,664.02 799.70,666.60 802.43,666.60 802.43,667.35 805.15,667.35 805.15,668.10 807.88,668.10 807.88,668.85 810.60,668.85 810.60,669.60 812.10,669.60 812.10,672.02 813.60,672.02 813.60,674.45 815.10,674.45 815.10,676.88 816.60,676.88 816.60,679.30 819.03,679.30 819.03,680.30 821.47,680.30 821.47,681.30 823.90,681.30 823.90,682.30 830.00,682.20 841.90,683.00 842.87,683.00 842.87,685.20 843.83,685.20 843.83,687.40 844.80,687.40 844.80,689.60 847.27,689.60 847.27,690.37 849.73,690.37 849.73,691.13 852.20,691.13 852.20,691.90 854.92,691.90 854.92,692.13 857.63,692.13 857.63,692.37 860.35,692.37 860.35,692.60 863.07,692.60 863.07,692.83 865.78,692.83 865.78,693.07 868.50,693.07 868.50,693.30 871.50,693.30 871.50,695.60 893.70,695.60 895.90,695.60 895.90,696.70 898.10,696.70 898.10,697.80 975.20,697.80 975.90,703.70 985.60,703.70" fill="none" stroke="#eef6d6" stroke-width="4.0" stroke-linejoin="round" stroke-linecap="butt"/>
<polyline points="167.70,151.60 169.65,151.60 169.65,152.40 171.60,152.40 171.60,153.20 174.00,153.20 174.00,155.40 176.40,155.40 176.40,157.60 179.55,157.60 179.55,158.30 182.70,158.30 182.70,159.00 183.90,159.00 183.90,161.65 185.10,161.65 185.10,164.30 185.60,164.30 185.60,166.57 186.10,166.57 186.10,168.83 186.60,168.83 186.60,171.10 187.20,177.80 190.00,177.80 190.00,180.60 192.43,180.60 192.43,181.38 194.85,181.38 194.85,182.15 197.27,182.15 197.27,182.92 199.70,182.92 199.70,183.70 200.60,184.40 201.43,184.40 201.43,187.05 202.25,187.05 202.25,189.70 203.07,189.70 203.07,192.35 203.90,192.35 203.90,195.00 206.40,195.00 206.40,197.70 210.00,197.70 210.00,199.40 212.78,199.40 212.78,200.38 215.55,200.38 215.55,201.35 218.32,201.35 218.32,202.33 221.10,202.33 221.10,203.30 221.83,203.30 221.83,205.90 222.57,205.90 222.57,208.50 223.30,208.50 223.30,211.10 224.80,211.10 224.80,213.33 226.30,213.33 226.30,215.57 227.80,215.57 227.80,217.80 231.60,219.00 234.70,219.00 234.70,221.15 237.80,221.15 237.80,223.30 239.18,223.30 239.18,225.80 240.55,225.80 240.55,228.30 241.93,228.30 241.93,230.80 243.30,230.80 243.30,233.30 246.10,233.30 246.10,235.00 248.90,235.00 248.90,236.70 251.87,236.70 251.87,237.60 254.83,237.60 254.83,238.50 257.80,238.50 257.80,239.40 259.27,239.40 259.27,242.20 260.73,242.20 260.73,245.00 262.20,245.00 262.20,247.80 264.43,247.80 264.43,249.10 266.67,249.10 266.67,250.40 268.90,250.40 268.90,251.70 271.50,251.70 271.50,252.43 274.10,252.43 274.10,253.17 276.70,253.17 276.70,253.90 277.43,253.90 277.43,256.13 278.17,256.13 278.17,258.37 278.90,258.37 278.90,260.60 281.50,260.60 281.50,262.27 284.10,262.27 284.10,263.93 286.70,263.93 286.70,265.60 290.00,266.10 292.66,266.10 292.66,266.88 295.32,266.88 295.32,267.66 297.98,267.66 297.98,268.44 300.64,268.44 300.64,269.22 303.30,269.22 303.30,270.00 304.80,270.00 304.80,272.40 306.30,272.40 306.30,274.80 307.80,274.80 307.80,277.20 310.57,277.20 310.57,277.62 313.35,277.62 313.35,278.05 316.12,278.05 316.12,278.47 318.90,278.47 318.90,278.90 321.56,278.90 321.56,279.46 324.22,279.46 324.22,280.02 326.88,280.02 326.88,280.58 329.54,280.58 329.54,281.14 332.20,281.14 332.20,281.70 334.40,281.70 334.40,284.40 356.70,285.00 359.45,285.00 359.45,286.65 362.20,286.65 362.20,288.30 410.60,288.70 412.70,288.70 412.70,290.55 414.80,290.55 414.80,292.40 450.90,292.40" fill="none" stroke="#a8c182" stroke-width="1.45" stroke-linejoin="round" stroke-linecap="butt"/>
<polyline points="167.70,151.60 170.15,151.60 170.15,152.90 172.60,152.90 172.60,154.20 174.75,154.20 174.75,156.10 176.90,156.10 176.90,158.00 177.65,158.00 177.65,160.45 178.40,160.45 178.40,162.90 180.55,162.90 180.55,164.60 182.70,164.60 182.70,166.30 184.20,166.30 184.20,170.10 185.10,176.90 185.60,183.70 186.10,192.20 186.60,203.00 187.20,211.10 187.54,211.10 187.54,213.54 187.88,213.54 187.88,215.98 188.22,215.98 188.22,218.42 188.56,218.42 188.56,220.86 188.90,220.86 188.90,223.30 189.63,223.30 189.63,225.53 190.37,225.53 190.37,227.77 191.10,227.77 191.10,230.00 194.40,230.00 194.40,233.30 197.50,233.30 197.50,235.55 200.60,235.55 200.60,237.80 201.40,237.80 201.40,240.00 202.20,240.00 202.20,242.20 202.76,242.20 202.76,244.88 203.32,244.88 203.32,247.56 203.88,247.56 203.88,250.24 204.44,250.24 204.44,252.92 205.00,252.92 205.00,255.60 205.57,255.60 205.57,258.53 206.13,258.53 206.13,261.47 206.70,261.47 206.70,264.40 210.00,264.40 210.00,267.20 212.50,267.20 212.50,267.75 215.00,267.75 215.00,268.30 217.50,268.30 217.50,268.85 220.00,268.85 220.00,269.40 223.30,269.40 223.30,272.20 224.43,272.20 224.43,275.00 225.57,275.00 225.57,277.80 226.70,277.80 226.70,280.60 229.67,280.60 229.67,281.33 232.63,281.33 232.63,282.07 235.60,282.07 235.60,282.80 237.80,282.80 237.80,284.47 240.00,284.47 240.00,286.13 242.20,286.13 242.20,287.80 256.70,288.90 259.45,288.90 259.45,291.65 262.20,291.65 262.20,294.40 273.30,295.00 275.53,295.00 275.53,295.87 277.77,295.87 277.77,296.73 280.00,296.73 280.00,297.60 290.00,298.30 292.80,298.30 292.80,299.25 295.60,299.25 295.60,300.20 301.10,300.60 304.40,300.60 304.40,302.80 368.50,302.80" fill="none" stroke="#848484" stroke-width="1.4" stroke-linejoin="round" stroke-linecap="butt"/>
<polyline points="707.20,151.70 711.10,152.20 714.07,152.20 714.07,153.50 717.03,153.50 717.03,154.80 720.00,154.80 720.00,156.10 725.60,157.20 728.35,157.20 728.35,158.90 731.10,158.90 731.10,160.60 733.33,160.60 733.33,161.87 735.57,161.87 735.57,163.13 737.80,163.13 737.80,164.40 748.90,165.00 751.50,165.00 751.50,166.10 754.10,166.10 754.10,167.20 756.70,167.20 756.70,168.30 759.20,168.30 759.20,169.00 761.70,169.00 761.70,169.70 764.20,169.70 764.20,170.40 766.70,170.40 766.70,171.10 769.48,171.10 769.48,172.35 772.25,172.35 772.25,173.60 775.02,173.60 775.02,174.85 777.80,174.85 777.80,176.10 780.77,176.10 780.77,176.83 783.73,176.83 783.73,177.57 786.70,177.57 786.70,178.30 789.36,178.30 789.36,179.98 792.02,179.98 792.02,181.66 794.68,181.66 794.68,183.34 797.34,183.34 797.34,185.02 800.00,185.02 800.00,186.70 802.20,186.70 802.20,189.45 804.40,189.45 804.40,192.20 807.00,192.20 807.00,193.50 809.60,193.50 809.60,194.80 812.20,194.80 812.20,196.10 814.70,196.10 814.70,196.93 817.20,196.93 817.20,197.75 819.70,197.75 819.70,198.57 822.20,198.57 822.20,199.40 825.17,199.40 825.17,202.20 828.13,202.20 828.13,205.00 831.10,205.00 831.10,207.80 833.88,207.80 833.88,208.90 836.65,208.90 836.65,210.00 839.43,210.00 839.43,211.10 842.20,211.10 842.20,212.20 844.45,212.20 844.45,214.45 846.70,214.45 846.70,216.70 849.48,216.70 849.48,217.95 852.25,217.95 852.25,219.20 855.02,219.20 855.02,220.45 857.80,220.45 857.80,221.70 860.77,221.70 860.77,223.37 863.73,223.37 863.73,225.03 866.70,225.03 866.70,226.70 869.48,226.70 869.48,227.38 872.25,227.38 872.25,228.05 875.02,228.05 875.02,228.72 877.80,228.72 877.80,229.40 880.77,229.40 880.77,230.70 883.73,230.70 883.73,232.00 886.70,232.00 886.70,233.30 889.20,233.30 889.20,235.25 891.70,235.25 891.70,237.20 894.20,237.20 894.20,239.15 896.70,239.15 896.70,241.10 899.48,241.10 899.48,242.50 902.25,242.50 902.25,243.90 905.02,243.90 905.02,245.30 907.80,245.30 907.80,246.70 910.00,246.70 910.00,248.00 912.20,248.00 912.20,249.30 914.40,249.30 914.40,250.60 917.08,250.60 917.08,250.92 919.76,250.92 919.76,251.24 922.44,251.24 922.44,251.56 925.12,251.56 925.12,251.88 927.80,251.88 927.80,252.20 930.46,252.20 930.46,252.76 933.12,252.76 933.12,253.32 935.78,253.32 935.78,253.88 938.44,253.88 938.44,254.44 941.10,254.44 941.10,255.00 957.80,255.60 960.24,255.60 960.24,257.04 962.68,257.04 962.68,258.48 965.12,258.48 965.12,259.92 967.56,259.92 967.56,261.36 970.00,261.36 970.00,262.80 993.30,263.30 994.40,267.80 1017.80,267.80" fill="none" stroke="#a8c182" stroke-width="1.45" stroke-linejoin="round" stroke-linecap="butt"/>
<polyline points="707.20,151.70 709.70,151.70 709.70,152.53 712.20,152.53 712.20,153.37 714.70,153.37 714.70,154.20 717.20,154.20 717.20,155.03 719.70,155.03 719.70,155.87 722.20,155.87 722.20,156.70 725.00,156.70 725.00,159.20 727.80,159.20 727.80,161.70 730.55,161.70 730.55,164.20 733.30,164.20 733.30,166.70 735.00,166.70 735.00,169.45 736.70,169.45 736.70,172.20 738.90,172.20 738.90,175.00 741.10,175.00 741.10,177.80 743.30,177.80 743.30,180.60 746.10,180.60 746.10,183.35 748.90,183.35 748.90,186.10 751.50,186.10 751.50,187.97 754.10,187.97 754.10,189.83 756.70,189.83 756.70,191.70 758.90,191.70 758.90,193.17 761.10,193.17 761.10,194.63 763.30,194.63 763.30,196.10 765.17,196.10 765.17,198.70 767.03,198.70 767.03,201.30 768.90,201.30 768.90,203.90 771.13,203.90 771.13,206.13 773.37,206.13 773.37,208.37 775.60,208.37 775.60,210.60 777.80,210.60 777.80,212.80 780.00,212.80 780.00,215.00 782.23,215.00 782.23,216.30 784.47,216.30 784.47,217.60 786.70,217.60 786.70,218.90 788.90,218.90 788.90,220.55 791.10,220.55 791.10,222.20 793.33,222.20 793.33,225.17 795.57,225.17 795.57,228.13 797.80,228.13 797.80,231.10 800.30,231.10 800.30,232.35 802.80,232.35 802.80,233.60 805.30,233.60 805.30,234.85 807.80,234.85 807.80,236.10 810.30,236.10 810.30,237.62 812.80,237.62 812.80,239.15 815.30,239.15 815.30,240.67 817.80,240.67 817.80,242.20 820.00,242.20 820.00,244.43 822.20,244.43 822.20,246.67 824.40,246.67 824.40,248.90 827.20,248.90 827.20,251.40 830.00,251.40 830.00,253.90 832.20,253.90 832.20,256.65 834.40,256.65 834.40,259.40 836.86,259.40 836.86,260.08 839.32,260.08 839.32,260.76 841.78,260.76 841.78,261.44 844.24,261.44 844.24,262.12 846.70,262.12 846.70,262.80 849.48,262.80 849.48,263.77 852.25,263.77 852.25,264.75 855.02,264.75 855.02,265.73 857.80,265.73 857.80,266.70 860.30,266.70 860.30,267.25 862.80,267.25 862.80,267.80 865.30,267.80 865.30,268.35 867.80,268.35 867.80,268.90 881.10,269.40 883.30,269.40 883.30,271.70 892.20,272.20 895.17,272.20 895.17,272.77 898.13,272.77 898.13,273.33 901.10,273.33 901.10,273.90 907.80,274.40 911.10,274.40 911.10,277.80 916.70,278.90 917.80,280.60 950.00,281.10 951.10,283.30 965.60,283.60 966.70,286.70 978.90,286.70 980.00,290.00 1022.20,290.00" fill="none" stroke="#848484" stroke-width="1.4" stroke-linejoin="round" stroke-linecap="butt"/>
<polyline points="707.30,563.70 709.95,563.70 709.95,565.15 712.60,565.15 712.60,566.60 715.50,566.60 715.50,567.90 718.40,567.90 718.40,569.20 721.30,569.20 721.30,570.50 723.20,570.50 723.20,574.30 723.68,574.30 723.68,576.72 724.15,576.72 724.15,579.15 724.62,579.15 724.62,581.58 725.10,581.58 725.10,584.00 725.60,584.00 725.60,586.90 726.10,586.90 726.10,589.80 726.60,589.80 726.60,592.70 727.10,592.70 727.10,595.60 728.05,595.60 728.05,598.25 729.00,598.25 729.00,600.90 731.60,600.90 731.60,601.87 734.20,601.87 734.20,602.83 736.80,602.83 736.80,603.80 739.20,603.80 739.20,606.50 741.60,606.50 741.60,609.20 742.33,609.20 742.33,612.10 743.05,612.10 743.05,615.00 743.77,615.00 743.77,617.90 744.50,617.90 744.50,620.80 746.50,620.80 746.50,623.00 750.30,624.10 752.63,624.10 752.63,624.97 754.97,624.97 754.97,625.83 757.30,625.83 757.30,626.70 758.52,626.70 758.52,629.40 759.75,629.40 759.75,632.10 760.98,632.10 760.98,634.80 762.20,634.80 762.20,637.50 764.86,637.50 764.86,638.36 767.52,638.36 767.52,639.22 770.18,639.22 770.18,640.08 772.84,640.08 772.84,640.94 775.50,640.94 775.50,641.80 777.20,641.80 777.20,644.22 778.90,644.22 778.90,646.64 780.60,646.64 780.60,649.06 782.30,649.06 782.30,651.48 784.00,651.48 784.00,653.90 786.40,653.90 786.40,654.50 788.80,654.50 788.80,655.10 791.20,655.10 791.20,655.70 793.60,655.70 793.60,656.30 795.12,656.30 795.12,658.88 796.65,658.88 796.65,661.45 798.18,661.45 798.18,664.02 799.70,664.02 799.70,666.60 802.43,666.60 802.43,667.35 805.15,667.35 805.15,668.10 807.88,668.10 807.88,668.85 810.60,668.85 810.60,669.60 812.10,669.60 812.10,672.02 813.60,672.02 813.60,674.45 815.10,674.45 815.10,676.88 816.60,676.88 816.60,679.30 819.03,679.30 819.03,680.30 821.47,680.30 821.47,681.30 823.90,681.30 823.90,682.30 830.00,682.20 841.90,683.00 842.87,683.00 842.87,685.20 843.83,685.20 843.83,687.40 844.80,687.40 844.80,689.60 847.27,689.60 847.27,690.37 849.73,690.37 849.73,691.13 852.20,691.13 852.20,691.90 854.92,691.90 854.92,692.13 857.63,692.13 857.63,692.37 860.35,692.37 860.35,692.60 863.07,692.60 863.07,692.83 865.78,692.83 865.78,693.07 868.50,693.07 868.50,693.30 871.50,693.30 871.50,695.60 893.70,695.60 895.90,695.60 895.90,696.70 898.10,696.70 898.10,697.80 975.20,697.80 975.90,703.70 985.60,703.70" fill="none" stroke="#a8c182" stroke-width="1.45" stroke-linejoin="round" stroke-linecap="butt"/>
<polyline points="707.30,563.70 709.45,563.70 709.45,566.10 711.60,566.10 711.60,568.50 714.50,568.50 714.50,570.70 717.40,570.70 717.40,572.90 719.35,572.90 719.35,575.05 721.30,575.05 721.30,577.20 721.77,577.20 721.77,579.62 722.25,579.62 722.25,582.05 722.73,582.05 722.73,584.48 723.20,584.48 723.20,586.90 723.58,586.90 723.58,589.80 723.95,589.80 723.95,592.70 724.33,592.70 724.33,595.60 724.70,595.60 724.70,598.50 725.30,613.00 725.90,629.70 726.50,629.70 726.50,632.12 727.10,632.12 727.10,634.55 727.70,634.55 727.70,636.98 728.30,636.98 728.30,639.40 730.10,639.40 730.10,641.80 731.90,641.80 731.90,644.20 737.40,645.40 738.45,645.40 738.45,648.12 739.50,648.12 739.50,650.85 740.55,650.85 740.55,653.57 741.60,653.57 741.60,656.30 741.94,656.30 741.94,658.71 742.29,658.71 742.29,661.13 742.63,661.13 742.63,663.54 742.97,663.54 742.97,665.96 743.31,665.96 743.31,668.37 743.66,668.37 743.66,670.79 744.00,670.79 744.00,673.20 747.70,673.20 747.70,676.90 757.30,677.50 759.12,677.50 759.12,680.38 760.95,680.38 760.95,683.25 762.77,683.25 762.77,686.12 764.60,686.12 764.60,689.00 767.03,689.00 767.03,689.80 769.47,689.80 769.47,690.60 771.90,690.60 771.90,691.40 774.30,691.40 774.30,693.60 776.70,693.60 776.70,695.80 779.10,695.80 779.10,698.00 781.76,698.00 781.76,698.60 784.42,698.60 784.42,699.20 787.08,699.20 787.08,699.80 789.74,699.80 789.74,700.40 792.40,700.40 792.40,701.00 794.83,701.00 794.83,702.43 797.27,702.43 797.27,703.87 799.70,703.87 799.70,705.30 825.10,705.30 827.50,705.30 827.50,707.30 830.00,707.70 896.70,707.70 897.40,707.70 897.40,709.80 898.10,709.80 898.10,711.90 902.60,711.90" fill="none" stroke="#848484" stroke-width="1.4" stroke-linejoin="round" stroke-linecap="butt"/>
<path d="M332.00,279.96V283.36M340.60,282.87V286.27M370.00,286.66V290.06M373.00,286.69V290.09M376.00,286.71V290.11M379.00,286.74V290.14M387.80,286.81V290.21M419.00,290.70V294.10M426.40,290.70V294.10M442.00,290.70V294.10M444.50,290.70V294.10M447.00,290.70V294.10M451.00,290.70V294.10" stroke="#a8c182" stroke-width="0.8" fill="none"/>
<path d="M300.00,298.82V302.22M368.30,301.10V304.50" stroke="#848484" stroke-width="0.8" fill="none"/>
<path d="M887.80,232.46V235.86M893.30,236.75V240.15M901.10,241.62V245.02M906.70,244.45V247.85M922.20,249.83V253.23M926.70,250.37V253.77M933.30,251.66V255.06M936.70,252.37V255.77M942.20,253.34V256.74M951.10,253.66V257.06M953.30,253.74V257.14M958.90,254.55V257.95M971.10,261.12V264.52M975.60,261.22V264.62M980.00,261.31V264.71M984.40,261.41V264.81M986.70,261.46V264.86M998.90,266.10V269.50M1003.30,266.10V269.50M1006.70,266.10V269.50M1015.60,266.10V269.50" stroke="#a8c182" stroke-width="0.8" fill="none"/>
<path d="M840.00,259.25V262.65M865.60,266.72V270.12M887.80,270.25V273.65M890.00,270.38V273.78M903.30,272.36V275.76M906.70,272.62V276.02M912.20,276.32V279.72M915.60,276.98V280.38M928.90,279.07V282.47M936.70,279.19V282.59M942.20,279.28V282.68M946.10,279.34V282.74M948.90,279.38V282.78M954.40,281.67V285.07M958.90,281.76V285.16M962.20,281.83V285.23M993.30,288.30V291.70M1016.70,288.30V291.70M1021.10,288.30V291.70" stroke="#848484" stroke-width="0.8" fill="none"/>
<path d="M831.50,680.60V684.00M833.70,680.75V684.15M865.60,691.35V694.75M867.80,691.54V694.94M875.90,693.90V697.30M902.60,696.10V699.50M905.60,696.10V699.50M910.70,696.10V699.50M913.70,696.10V699.50M921.10,696.10V699.50M944.00,696.10V699.50M948.50,696.10V699.50M953.00,696.10V699.50M959.60,696.10V699.50M984.00,702.00V705.40" stroke="#a8c182" stroke-width="0.8" fill="none"/>
<path d="M831.50,706.00V709.40M837.40,706.00V709.40M840.40,706.00V709.40M902.60,710.20V713.60" stroke="#848484" stroke-width="0.8" fill="none"/>
<line x1="70" y1="520.36" x2="524.5" y2="520.36" stroke="#959595" stroke-width="0.95" stroke-dasharray="3.6 3.35"/>
<line x1="70" y1="554.46" x2="524.5" y2="554.46" stroke="#959595" stroke-width="0.95" stroke-dasharray="3.6 3.35"/>
<line x1="70" y1="712.36" x2="524.5" y2="712.36" stroke="#959595" stroke-width="0.95" stroke-dasharray="3.6 3.35"/>
<line x1="70" y1="746.46" x2="524.5" y2="746.46" stroke="#959595" stroke-width="0.95" stroke-dasharray="3.6 3.35"/>
<g fill="#b9d78b"><rect x="70.00" y="486.60" width="2.33" height="47.40"/><rect x="72.73" y="492.40" width="2.33" height="41.60"/><rect x="75.45" y="502.63" width="2.33" height="31.37"/><rect x="78.18" y="507.30" width="2.33" height="26.70"/><rect x="80.90" y="508.28" width="2.33" height="25.72"/><rect x="83.63" y="509.83" width="2.33" height="24.17"/><rect x="86.35" y="511.02" width="2.33" height="22.98"/><rect x="89.08" y="512.63" width="2.33" height="21.37"/><rect x="91.80" y="515.25" width="2.33" height="18.75"/><rect x="94.53" y="516.68" width="2.33" height="17.32"/><rect x="97.25" y="517.55" width="2.33" height="16.45"/><rect x="99.98" y="518.29" width="2.33" height="15.71"/><rect x="102.70" y="519.04" width="2.33" height="14.96"/><rect x="105.43" y="519.79" width="2.33" height="14.21"/><rect x="108.15" y="520.63" width="2.33" height="13.37"/><rect x="110.88" y="521.47" width="2.33" height="12.53"/><rect x="113.60" y="522.31" width="2.33" height="11.69"/><rect x="116.33" y="523.13" width="2.33" height="10.87"/><rect x="119.06" y="523.74" width="2.33" height="10.26"/><rect x="121.78" y="524.35" width="2.33" height="9.65"/><rect x="124.51" y="524.96" width="2.33" height="9.04"/><rect x="127.23" y="525.58" width="2.33" height="8.42"/><rect x="129.96" y="526.19" width="2.33" height="7.81"/><rect x="132.68" y="526.80" width="2.33" height="7.20"/><rect x="135.41" y="527.28" width="2.33" height="6.72"/><rect x="138.13" y="527.75" width="2.33" height="6.25"/><rect x="140.86" y="528.22" width="2.33" height="5.78"/><rect x="143.58" y="528.69" width="2.33" height="5.31"/><rect x="146.31" y="529.15" width="2.33" height="4.85"/><rect x="149.03" y="529.62" width="2.33" height="4.38"/><rect x="151.76" y="530.09" width="2.33" height="3.91"/><rect x="154.48" y="530.56" width="2.33" height="3.44"/><rect x="157.21" y="531.01" width="2.33" height="2.99"/><rect x="159.93" y="531.45" width="2.33" height="2.55"/><rect x="162.66" y="531.89" width="2.33" height="2.11"/><rect x="165.39" y="532.31" width="2.33" height="1.69"/><rect x="168.11" y="532.53" width="2.33" height="1.47"/><rect x="170.84" y="532.75" width="2.33" height="1.25"/><rect x="184.46" y="534.00" width="2.33" height="0.75"/><rect x="187.19" y="534.00" width="2.33" height="0.86"/><rect x="189.91" y="534.00" width="2.33" height="0.97"/><rect x="192.64" y="534.00" width="2.33" height="1.07"/><rect x="195.36" y="534.00" width="2.33" height="1.18"/><rect x="198.09" y="534.00" width="2.33" height="1.28"/><rect x="200.81" y="534.00" width="2.33" height="1.46"/><rect x="203.54" y="534.00" width="2.33" height="1.85"/><rect x="206.27" y="534.00" width="2.33" height="2.24"/><rect x="208.99" y="534.00" width="2.33" height="2.63"/><rect x="211.72" y="534.00" width="2.33" height="3.02"/><rect x="214.44" y="534.00" width="2.33" height="3.41"/><rect x="217.17" y="534.00" width="2.33" height="3.81"/><rect x="219.89" y="534.00" width="2.33" height="4.31"/><rect x="222.62" y="534.00" width="2.33" height="4.82"/><rect x="225.34" y="534.00" width="2.33" height="5.32"/><rect x="228.07" y="534.00" width="2.33" height="5.82"/><rect x="230.79" y="534.00" width="2.33" height="6.33"/><rect x="233.52" y="534.00" width="2.33" height="6.83"/><rect x="236.24" y="534.00" width="2.33" height="7.34"/><rect x="238.97" y="534.00" width="2.33" height="7.86"/><rect x="241.69" y="534.00" width="2.33" height="8.37"/><rect x="244.42" y="534.00" width="2.33" height="8.88"/><rect x="247.14" y="534.00" width="2.33" height="9.39"/><rect x="249.87" y="534.00" width="2.33" height="9.90"/><rect x="252.60" y="534.00" width="2.33" height="10.27"/><rect x="255.32" y="534.00" width="2.33" height="10.61"/><rect x="258.05" y="534.00" width="2.33" height="10.96"/><rect x="260.77" y="534.00" width="2.33" height="11.30"/><rect x="263.50" y="534.00" width="2.33" height="11.65"/><rect x="266.22" y="534.00" width="2.33" height="11.99"/><rect x="268.95" y="534.00" width="2.33" height="12.27"/><rect x="271.67" y="534.00" width="2.33" height="12.53"/><rect x="274.40" y="534.00" width="2.33" height="12.78"/><rect x="277.12" y="534.00" width="2.33" height="13.04"/><rect x="279.85" y="534.00" width="2.33" height="13.30"/><rect x="282.57" y="534.00" width="2.33" height="13.56"/><rect x="285.30" y="534.00" width="2.33" height="14.02"/><rect x="288.02" y="534.00" width="2.33" height="14.57"/><rect x="290.75" y="534.00" width="2.33" height="15.13"/><rect x="293.47" y="534.00" width="2.33" height="15.69"/><rect x="296.20" y="534.00" width="2.33" height="16.24"/><rect x="298.93" y="534.00" width="2.33" height="16.80"/><rect x="301.65" y="534.00" width="2.33" height="17.36"/><rect x="304.38" y="534.00" width="2.33" height="17.91"/><rect x="307.10" y="534.00" width="2.33" height="18.47"/><rect x="309.83" y="534.00" width="2.33" height="19.03"/><rect x="312.55" y="534.00" width="2.33" height="19.58"/><rect x="315.28" y="534.00" width="2.33" height="20.14"/><rect x="318.00" y="534.00" width="2.33" height="20.68"/><rect x="320.73" y="534.00" width="2.33" height="21.21"/><rect x="323.45" y="534.00" width="2.33" height="21.73"/><rect x="326.18" y="534.00" width="2.33" height="22.26"/><rect x="328.90" y="534.00" width="2.33" height="22.78"/><rect x="331.63" y="534.00" width="2.33" height="23.31"/><rect x="334.35" y="534.00" width="2.33" height="23.83"/><rect x="337.08" y="534.00" width="2.33" height="24.20"/><rect x="339.80" y="534.00" width="2.33" height="24.56"/><rect x="342.53" y="534.00" width="2.33" height="24.92"/><rect x="345.26" y="534.00" width="2.33" height="25.28"/><rect x="347.98" y="534.00" width="2.33" height="25.64"/><rect x="350.71" y="534.00" width="2.33" height="25.99"/><rect x="353.43" y="534.00" width="2.33" height="26.35"/><rect x="356.16" y="534.00" width="2.33" height="26.71"/><rect x="358.88" y="534.00" width="2.33" height="27.14"/><rect x="361.61" y="534.00" width="2.33" height="27.59"/><rect x="364.33" y="534.00" width="2.33" height="28.04"/><rect x="367.06" y="534.00" width="2.33" height="28.50"/><rect x="369.78" y="534.00" width="2.33" height="28.95"/><rect x="372.51" y="534.00" width="2.33" height="29.40"/><rect x="375.23" y="534.00" width="2.33" height="29.85"/><rect x="377.96" y="534.00" width="2.33" height="30.30"/><rect x="380.68" y="534.00" width="2.33" height="30.68"/><rect x="383.41" y="534.00" width="2.33" height="31.01"/><rect x="386.13" y="534.00" width="2.33" height="31.34"/><rect x="388.86" y="534.00" width="2.33" height="31.67"/><rect x="391.59" y="534.00" width="2.33" height="31.99"/><rect x="394.31" y="534.00" width="2.33" height="32.32"/><rect x="397.04" y="534.00" width="2.33" height="32.65"/><rect x="399.76" y="534.00" width="2.33" height="32.98"/><rect x="402.49" y="534.00" width="2.33" height="33.35"/><rect x="405.21" y="534.00" width="2.33" height="33.75"/><rect x="407.94" y="534.00" width="2.33" height="34.16"/><rect x="410.66" y="534.00" width="2.33" height="34.57"/><rect x="413.39" y="534.00" width="2.33" height="34.98"/><rect x="416.11" y="534.00" width="2.33" height="35.39"/><rect x="418.84" y="534.00" width="2.33" height="35.80"/><rect x="421.56" y="534.00" width="2.33" height="36.20"/><rect x="424.29" y="534.00" width="2.33" height="36.65"/><rect x="427.01" y="534.00" width="2.33" height="37.20"/><rect x="429.74" y="534.00" width="2.33" height="37.74"/><rect x="432.47" y="534.00" width="2.33" height="38.28"/><rect x="435.19" y="534.00" width="2.33" height="38.82"/><rect x="437.92" y="534.00" width="2.33" height="39.36"/><rect x="440.64" y="534.00" width="2.33" height="39.90"/><rect x="443.37" y="534.00" width="2.33" height="40.45"/><rect x="446.09" y="534.00" width="2.33" height="41.00"/><rect x="448.82" y="534.00" width="2.33" height="41.67"/><rect x="451.54" y="534.00" width="2.33" height="42.34"/><rect x="454.27" y="534.00" width="2.33" height="43.01"/><rect x="456.99" y="534.00" width="2.33" height="43.68"/><rect x="459.72" y="534.00" width="2.33" height="44.35"/><rect x="462.44" y="534.00" width="2.33" height="45.02"/><rect x="465.17" y="534.00" width="2.33" height="45.69"/><rect x="467.89" y="534.00" width="2.33" height="46.36"/><rect x="470.62" y="534.00" width="2.33" height="47.55"/><rect x="473.34" y="534.00" width="2.33" height="48.75"/><rect x="476.07" y="534.00" width="2.33" height="49.94"/><rect x="478.80" y="534.00" width="2.33" height="51.14"/><rect x="481.52" y="534.00" width="2.33" height="52.35"/><rect x="484.25" y="534.00" width="2.33" height="53.67"/><rect x="486.97" y="534.00" width="2.33" height="54.99"/><rect x="489.70" y="534.00" width="2.33" height="56.31"/><rect x="492.42" y="534.00" width="2.33" height="57.62"/><rect x="495.15" y="534.00" width="2.33" height="68.15"/><rect x="497.87" y="534.00" width="2.33" height="68.20"/><rect x="500.60" y="534.00" width="2.33" height="68.20"/><rect x="503.32" y="534.00" width="2.33" height="68.20"/><rect x="506.05" y="534.00" width="2.33" height="68.20"/><rect x="508.77" y="534.00" width="2.33" height="68.20"/><rect x="511.50" y="534.00" width="2.33" height="68.20"/><rect x="514.22" y="534.00" width="2.33" height="68.20"/><rect x="516.95" y="534.00" width="2.33" height="68.20"/><rect x="519.67" y="534.00" width="2.33" height="68.20"/></g>
<g fill="#b8b8b8" stroke="#666" stroke-width="0.55"><rect x="71.43" y="648.52" width="1.67" height="77.48"/><rect x="74.15" y="662.76" width="1.67" height="63.24"/><rect x="76.87" y="669.91" width="1.67" height="56.09"/><rect x="79.60" y="683.99" width="1.67" height="42.01"/><rect x="82.32" y="684.06" width="1.67" height="41.94"/><rect x="85.05" y="688.03" width="1.67" height="37.97"/><rect x="87.77" y="688.54" width="1.67" height="37.46"/><rect x="90.50" y="690.02" width="1.67" height="35.98"/><rect x="93.22" y="690.77" width="1.67" height="35.23"/><rect x="95.95" y="691.24" width="1.67" height="34.76"/><rect x="98.67" y="691.91" width="1.67" height="34.09"/><rect x="101.40" y="692.18" width="1.67" height="33.82"/><rect x="104.12" y="692.73" width="1.67" height="33.27"/><rect x="106.85" y="698.88" width="1.67" height="27.12"/><rect x="109.57" y="699.23" width="1.67" height="26.77"/><rect x="112.30" y="699.73" width="1.67" height="26.27"/><rect x="115.02" y="700.54" width="1.67" height="25.46"/><rect x="117.74" y="702.49" width="1.67" height="23.51"/><rect x="120.47" y="702.83" width="1.67" height="23.17"/><rect x="123.19" y="703.10" width="1.67" height="22.90"/><rect x="125.92" y="704.12" width="1.67" height="21.88"/><rect x="128.64" y="704.53" width="1.67" height="21.47"/><rect x="131.37" y="704.90" width="1.67" height="21.10"/><rect x="134.09" y="705.27" width="1.67" height="20.73"/><rect x="136.82" y="705.94" width="1.67" height="20.06"/><rect x="139.54" y="707.41" width="1.67" height="18.59"/><rect x="142.27" y="708.43" width="1.67" height="17.57"/><rect x="144.99" y="709.37" width="1.67" height="16.63"/><rect x="147.72" y="709.71" width="1.67" height="16.29"/><rect x="150.44" y="710.04" width="1.67" height="15.96"/><rect x="153.17" y="710.39" width="1.67" height="15.61"/><rect x="155.89" y="710.83" width="1.67" height="15.17"/><rect x="158.62" y="711.26" width="1.67" height="14.74"/><rect x="161.34" y="711.70" width="1.67" height="14.30"/><rect x="164.06" y="712.10" width="1.67" height="13.90"/><rect x="166.79" y="712.19" width="1.67" height="13.81"/><rect x="169.51" y="712.28" width="1.67" height="13.72"/><rect x="172.24" y="712.37" width="1.67" height="13.63"/><rect x="174.96" y="712.46" width="1.67" height="13.54"/><rect x="177.69" y="712.55" width="1.67" height="13.45"/><rect x="180.41" y="713.50" width="1.67" height="12.50"/><rect x="183.14" y="714.69" width="1.67" height="11.31"/><rect x="185.86" y="715.88" width="1.67" height="10.12"/><rect x="188.59" y="716.56" width="1.67" height="9.44"/><rect x="191.31" y="717.19" width="1.67" height="8.81"/><rect x="194.04" y="717.83" width="1.67" height="8.17"/><rect x="196.76" y="718.02" width="1.67" height="7.98"/><rect x="199.49" y="718.02" width="1.67" height="7.98"/><rect x="202.21" y="718.02" width="1.67" height="7.98"/><rect x="204.94" y="718.02" width="1.67" height="7.98"/><rect x="207.66" y="718.02" width="1.67" height="7.98"/><rect x="210.38" y="719.65" width="1.67" height="6.35"/><rect x="213.11" y="719.83" width="1.67" height="6.17"/><rect x="215.83" y="719.87" width="1.67" height="6.13"/><rect x="218.56" y="719.90" width="1.67" height="6.10"/><rect x="221.28" y="719.94" width="1.67" height="6.06"/><rect x="224.01" y="719.98" width="1.67" height="6.02"/><rect x="226.73" y="720.02" width="1.67" height="5.98"/><rect x="229.46" y="720.05" width="1.67" height="5.95"/><rect x="232.18" y="720.09" width="1.67" height="5.91"/><rect x="234.91" y="720.13" width="1.67" height="5.87"/><rect x="237.63" y="720.16" width="1.67" height="5.84"/><rect x="240.36" y="720.20" width="1.67" height="5.80"/><rect x="243.08" y="720.20" width="1.67" height="5.80"/><rect x="245.81" y="720.20" width="1.67" height="5.80"/><rect x="248.53" y="720.20" width="1.67" height="5.80"/><rect x="251.26" y="720.20" width="1.67" height="5.80"/><rect x="253.98" y="721.89" width="1.67" height="4.11"/><rect x="256.70" y="722.09" width="1.67" height="3.91"/><rect x="259.43" y="722.29" width="1.67" height="3.71"/><rect x="262.15" y="722.43" width="1.67" height="3.57"/><rect x="264.88" y="722.56" width="1.67" height="3.44"/><rect x="267.60" y="722.70" width="1.67" height="3.30"/><rect x="270.33" y="722.83" width="1.67" height="3.17"/><rect x="273.05" y="722.96" width="1.67" height="3.04"/><rect x="275.78" y="723.10" width="1.67" height="2.90"/><rect x="278.50" y="723.23" width="1.67" height="2.77"/><rect x="281.23" y="723.36" width="1.67" height="2.64"/><rect x="283.95" y="724.01" width="1.67" height="1.99"/><rect x="286.68" y="724.12" width="1.67" height="1.88"/><rect x="289.40" y="724.23" width="1.67" height="1.77"/><rect x="292.13" y="724.34" width="1.67" height="1.66"/><rect x="294.85" y="724.45" width="1.67" height="1.55"/><rect x="297.57" y="724.56" width="1.67" height="1.44"/><rect x="300.30" y="724.67" width="1.67" height="1.33"/><rect x="303.02" y="724.78" width="1.67" height="1.22"/><rect x="305.75" y="724.88" width="1.67" height="1.12"/><rect x="308.47" y="724.99" width="1.67" height="1.01"/><rect x="311.20" y="725.10" width="1.67" height="0.90"/><rect x="324.82" y="726.00" width="1.67" height="1.09"/><rect x="327.55" y="726.00" width="1.67" height="1.09"/><rect x="330.27" y="726.00" width="1.67" height="1.09"/><rect x="333.00" y="726.00" width="1.67" height="1.09"/><rect x="335.72" y="726.00" width="1.67" height="1.09"/><rect x="338.45" y="726.00" width="1.67" height="1.09"/><rect x="341.17" y="726.00" width="1.67" height="1.09"/><rect x="343.89" y="726.00" width="1.67" height="1.09"/><rect x="346.62" y="726.00" width="1.67" height="1.67"/><rect x="349.34" y="726.00" width="1.67" height="2.56"/><rect x="352.07" y="726.00" width="1.67" height="2.74"/><rect x="354.79" y="726.00" width="1.67" height="2.92"/><rect x="357.52" y="726.00" width="1.67" height="3.10"/><rect x="360.24" y="726.00" width="1.67" height="3.28"/><rect x="362.97" y="726.00" width="1.67" height="3.46"/><rect x="365.69" y="726.00" width="1.67" height="3.63"/><rect x="368.42" y="726.00" width="1.67" height="3.81"/><rect x="371.14" y="726.00" width="1.67" height="3.99"/><rect x="373.87" y="726.00" width="1.67" height="4.17"/><rect x="376.59" y="726.00" width="1.67" height="4.35"/><rect x="379.32" y="726.00" width="1.67" height="4.53"/><rect x="382.04" y="726.00" width="1.67" height="4.71"/><rect x="384.77" y="726.00" width="1.67" height="4.88"/><rect x="387.49" y="726.00" width="1.67" height="5.06"/><rect x="390.21" y="726.00" width="1.67" height="5.47"/><rect x="392.94" y="726.00" width="1.67" height="5.98"/><rect x="395.66" y="726.00" width="1.67" height="6.48"/><rect x="398.39" y="726.00" width="1.67" height="6.98"/><rect x="401.11" y="726.00" width="1.67" height="7.56"/><rect x="403.84" y="726.00" width="1.67" height="8.40"/><rect x="406.56" y="726.00" width="1.67" height="9.24"/><rect x="409.29" y="726.00" width="1.67" height="10.08"/><rect x="412.01" y="726.00" width="1.67" height="10.92"/><rect x="414.74" y="726.00" width="1.67" height="11.76"/><rect x="417.46" y="726.00" width="1.67" height="12.33"/><rect x="420.19" y="726.00" width="1.67" height="12.90"/><rect x="422.91" y="726.00" width="1.67" height="13.46"/><rect x="425.64" y="726.00" width="1.67" height="13.90"/><rect x="428.36" y="726.00" width="1.67" height="14.27"/><rect x="431.09" y="726.00" width="1.67" height="14.65"/><rect x="433.81" y="726.00" width="1.67" height="15.02"/><rect x="436.53" y="726.00" width="1.67" height="15.40"/><rect x="439.26" y="726.00" width="1.67" height="15.77"/><rect x="441.98" y="726.00" width="1.67" height="16.15"/><rect x="444.71" y="726.00" width="1.67" height="16.52"/><rect x="447.43" y="726.00" width="1.67" height="16.95"/><rect x="450.16" y="726.00" width="1.67" height="17.44"/><rect x="452.88" y="726.00" width="1.67" height="17.93"/><rect x="455.61" y="726.00" width="1.67" height="18.42"/><rect x="458.33" y="726.00" width="1.67" height="18.91"/><rect x="461.06" y="726.00" width="1.67" height="19.25"/><rect x="463.78" y="726.00" width="1.67" height="19.50"/><rect x="466.51" y="726.00" width="1.67" height="19.75"/><rect x="469.23" y="726.00" width="1.67" height="20.00"/><rect x="471.96" y="726.00" width="1.67" height="20.99"/><rect x="474.68" y="726.00" width="1.67" height="22.94"/><rect x="477.41" y="726.00" width="1.67" height="24.00"/><rect x="480.13" y="726.00" width="1.67" height="24.23"/><rect x="482.85" y="726.00" width="1.67" height="24.45"/><rect x="485.58" y="726.00" width="1.67" height="25.19"/><rect x="488.30" y="726.00" width="1.67" height="26.34"/><rect x="491.03" y="726.00" width="1.67" height="27.46"/><rect x="493.75" y="726.00" width="1.67" height="28.53"/><rect x="496.48" y="726.00" width="1.67" height="29.34"/><rect x="499.20" y="726.00" width="1.67" height="30.14"/><rect x="501.93" y="726.00" width="1.67" height="30.94"/><rect x="504.65" y="726.00" width="1.67" height="32.06"/><rect x="507.38" y="726.00" width="1.67" height="33.54"/><rect x="510.10" y="726.00" width="1.67" height="35.38"/><rect x="512.83" y="726.00" width="1.67" height="37.96"/><rect x="515.55" y="726.00" width="1.67" height="38.75"/><rect x="518.28" y="726.00" width="1.67" height="68.20"/><rect x="521.00" y="726.00" width="1.67" height="68.20"/></g>
<line x1="70" y1="520.36" x2="524.5" y2="520.36" stroke="#666" stroke-opacity="0.22" stroke-width="1.0" stroke-dasharray="3.6 3.35"/>
<line x1="70" y1="554.46" x2="524.5" y2="554.46" stroke="#666" stroke-opacity="0.22" stroke-width="1.0" stroke-dasharray="3.6 3.35"/>
<line x1="70" y1="712.36" x2="524.5" y2="712.36" stroke="#666" stroke-opacity="0.22" stroke-width="1.0" stroke-dasharray="3.6 3.35"/>
<line x1="70" y1="746.46" x2="524.5" y2="746.46" stroke="#666" stroke-opacity="0.22" stroke-width="1.0" stroke-dasharray="3.6 3.35"/>
<rect x="174.50" y="530.2" width="2.0" height="2.2" fill="none" stroke="#888" stroke-width="0.6"/>
<rect x="177.30" y="530.2" width="2.0" height="2.2" fill="none" stroke="#888" stroke-width="0.6"/>
<rect x="180.10" y="530.2" width="2.0" height="2.2" fill="none" stroke="#888" stroke-width="0.6"/>
<rect x="312.50" y="722.0" width="2.0" height="2.2" fill="none" stroke="#888" stroke-width="0.6"/>
<rect x="315.30" y="722.0" width="2.0" height="2.2" fill="none" stroke="#888" stroke-width="0.6"/>
<rect x="318.10" y="722.0" width="2.0" height="2.2" fill="none" stroke="#888" stroke-width="0.6"/>
<rect x="320.90" y="722.0" width="2.0" height="2.2" fill="none" stroke="#888" stroke-width="0.6"/>
<line x1="68.80" y1="448.15" x2="68.80" y2="602.80" stroke="#555" stroke-width="1.2"/>
<line x1="63.40" y1="448.75" x2="68.80" y2="448.75" stroke="#555" stroke-width="1.2"/>
<text x="61.30" y="452.65" font-size="11" font-weight="normal" fill="#444" stroke="#444" stroke-width="0.22" text-anchor="end">125</text>
<line x1="63.40" y1="465.80" x2="68.80" y2="465.80" stroke="#555" stroke-width="1.2"/>
<text x="61.30" y="469.70" font-size="11" font-weight="normal" fill="#444" stroke="#444" stroke-width="0.22" text-anchor="end">100</text>
<line x1="63.40" y1="499.90" x2="68.80" y2="499.90" stroke="#555" stroke-width="1.2"/>
<text x="61.30" y="503.80" font-size="11" font-weight="normal" fill="#444" stroke="#444" stroke-width="0.22" text-anchor="end">50</text>
<line x1="63.40" y1="534.00" x2="68.80" y2="534.00" stroke="#555" stroke-width="1.2"/>
<text x="61.30" y="537.90" font-size="11" font-weight="normal" fill="#444" stroke="#444" stroke-width="0.22" text-anchor="end">0</text>
<line x1="63.40" y1="568.10" x2="68.80" y2="568.10" stroke="#555" stroke-width="1.2"/>
<text x="61.30" y="572.00" font-size="11" font-weight="normal" fill="#444" stroke="#444" stroke-width="0.22" text-anchor="end">–50</text>
<line x1="63.40" y1="602.20" x2="68.80" y2="602.20" stroke="#555" stroke-width="1.2"/>
<text x="61.30" y="606.10" font-size="11" font-weight="normal" fill="#444" stroke="#444" stroke-width="0.22" text-anchor="end">–100</text>
<line x1="68.20" y1="602.20" x2="524.60" y2="602.20" stroke="#555" stroke-width="1.2"/>
<line x1="68.80" y1="640.15" x2="68.80" y2="794.80" stroke="#555" stroke-width="1.2"/>
<line x1="63.40" y1="640.75" x2="68.80" y2="640.75" stroke="#555" stroke-width="1.2"/>
<text x="61.30" y="644.65" font-size="11" font-weight="normal" fill="#444" stroke="#444" stroke-width="0.22" text-anchor="end">125</text>
<line x1="63.40" y1="657.80" x2="68.80" y2="657.80" stroke="#555" stroke-width="1.2"/>
<text x="61.30" y="661.70" font-size="11" font-weight="normal" fill="#444" stroke="#444" stroke-width="0.22" text-anchor="end">100</text>
<line x1="63.40" y1="691.90" x2="68.80" y2="691.90" stroke="#555" stroke-width="1.2"/>
<text x="61.30" y="695.80" font-size="11" font-weight="normal" fill="#444" stroke="#444" stroke-width="0.22" text-anchor="end">50</text>
<line x1="63.40" y1="726.00" x2="68.80" y2="726.00" stroke="#555" stroke-width="1.2"/>
<text x="61.30" y="729.90" font-size="11" font-weight="normal" fill="#444" stroke="#444" stroke-width="0.22" text-anchor="end">0</text>
<line x1="63.40" y1="760.10" x2="68.80" y2="760.10" stroke="#555" stroke-width="1.2"/>
<text x="61.30" y="764.00" font-size="11" font-weight="normal" fill="#444" stroke="#444" stroke-width="0.22" text-anchor="end">–50</text>
<line x1="63.40" y1="794.20" x2="68.80" y2="794.20" stroke="#555" stroke-width="1.2"/>
<text x="61.30" y="798.10" font-size="11" font-weight="normal" fill="#444" stroke="#444" stroke-width="0.22" text-anchor="end">–100</text>
<line x1="68.20" y1="794.20" x2="524.60" y2="794.20" stroke="#555" stroke-width="1.2"/>
<line x1="68.80" y1="534.00" x2="524.60" y2="534.00" stroke="#59654c" stroke-width="1.4"/>
<line x1="68.80" y1="726.00" x2="524.60" y2="726.00" stroke="#555" stroke-width="1.4"/>
<text transform="translate(27.60,596.60) rotate(-90)" x="0" y="0" font-size="12" font-weight="bold" fill="#333" textLength="140.00" lengthAdjust="spacingAndGlyphs">Change from Baseline (%)</text>
<text transform="translate(28.00,788.60) rotate(-90)" x="0" y="0" font-size="12" font-weight="bold" fill="#333" textLength="140.00" lengthAdjust="spacingAndGlyphs">Change from Baseline (%)</text>
<text x="232.60" y="459.60" font-size="11.5" font-weight="bold" font-style="normal" fill="#333" textLength="127.00" lengthAdjust="spacingAndGlyphs">Sacituzumab Govitecan</text>
<text x="256.70" y="651.10" font-size="11.5" font-weight="bold" font-style="normal" fill="#333" textLength="78.90" lengthAdjust="spacingAndGlyphs">Chemotherapy</text>
<text x="274.80" y="810.40" font-size="11.5" font-weight="bold" font-style="normal" fill="#333" textLength="43.30" lengthAdjust="spacingAndGlyphs">Patients</text>
<g fill="none" stroke-linecap="round" stroke-linejoin="round">
<path d="M913,762.8 C907,760.2 897,761 892.5,766.5 C889,771 890,777 894,780.5 L893,784.5 L897.5,782.5 C899.5,783.2 902,783.5 905,783.5" stroke="#c4c4c4" stroke-width="1.1"/>
<path d="M897.5,767.8 L899.8,766 L902,767.8 M909,767.8 L911.3,766 L913.5,767.8" stroke="#bdbdbd" stroke-width="0.9"/>
<path d="M916,770 C909,771 905.5,777 906.5,783 C907.5,790 914,794.5 921.5,794 C924,793.8 926,793.2 927.5,792.5 L931,795.5 L930,790.5 C932.5,788 933.5,784 932.8,780.5" stroke="#8c8c8c" stroke-width="1.1"/>
<path d="M914.2,779.5 L914.2,777.5 L915.6,777.5 L915.6,779.5 M923.5,779.5 L923.5,777.5 L924.9,777.5 L924.9,779.5" stroke="#aaa" stroke-width="0.7"/>
<path d="M944.3,769.2 L958.8,769.2 M944.3,776.3 L958.8,776.3 M944.3,782.4 L958.8,782.4 M944.3,769.2 L944.3,782.4 M953.3,769.2 L953.3,791 M961.8,768.4 L961.8,784" stroke="#9a9a9a" stroke-width="1.1"/>
<path d="M968.4,769.6 L980,767.1 M970.5,771.5 L971.2,774 M973.5,771.5 L974,774 M978,771 L976.5,774.5 M968.4,777.3 L975,777.3 M975,781 L979.6,776.5 M967.4,784.5 L979.6,782.5 M979.8,785 L980,792 L978,792 M971,790.8 L974.5,790.8 M983.9,767 L983.9,789.5 L991,789.5 L991,784" stroke="#9a9a9a" stroke-width="1.1"/>
<path d="M999.2,766.4 L999.2,790.6 M993.9,772.6 L1002.8,772.6 M998,776 L994,785.5 M1000,779 L1002.5,782 M1006.1,769.2 L1006.1,789.2 M1006.1,769.2 L1015.6,769.2 L1015.6,789.2 M1006.1,775.6 L1015.6,775.6 M1006.1,782.3 L1015.6,782.3 M1006.1,789.2 L1015.6,789.2" stroke="#9a9a9a" stroke-width="1.1"/>
<path d="M1020.6,770 L1043.3,769.5 M1032.5,765.5 L1033,768 M1029,770.5 L1029,779 M1035,770 L1035,779.5 M1026,774 L1022,779 M1039.5,774 L1042.5,778 M1024,782 L1021,790 M1027.5,783 L1027.5,789.5 C1027.5,790.5 1028.5,791 1030,791 L1036.5,791 C1038,791 1038.5,790 1038.5,787 M1032.6,784.5 L1034.3,786.5 M1041,785.5 L1043.5,789.5" stroke="#9a9a9a" stroke-width="1.1"/>
</g>
</svg></body></html>
